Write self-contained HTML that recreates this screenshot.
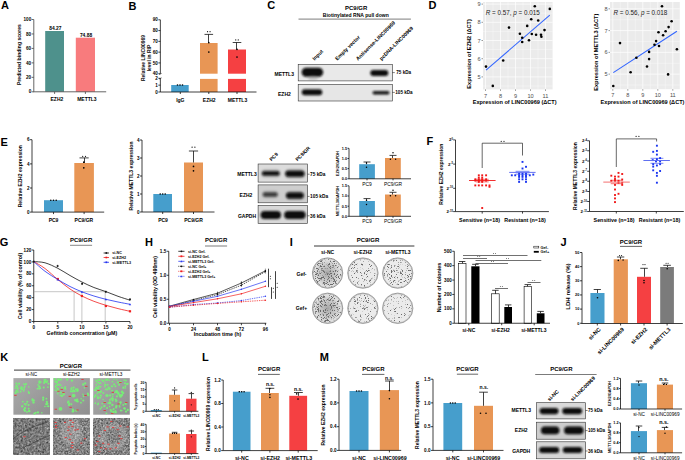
<!DOCTYPE html>
<html><head><meta charset="utf-8"><title>Figure</title>
<style>html,body{margin:0;padding:0;background:#fff;width:685px;height:460px;overflow:hidden;font-family:"Liberation Sans",sans-serif}svg{display:block}</style>
</head><body>
<svg width="685" height="460" viewBox="0 0 685 460" font-family="Liberation Sans, sans-serif"><defs>
<filter id="blur08" x="-50%" y="-50%" width="200%" height="200%"><feGaussianBlur stdDeviation="0.8"/></filter>
<filter id="blur05" x="-50%" y="-50%" width="200%" height="200%"><feGaussianBlur stdDeviation="0.5"/></filter>
<filter id="blur1" x="-50%" y="-50%" width="200%" height="200%"><feGaussianBlur stdDeviation="1"/></filter>
<filter id="blur12" x="-50%" y="-50%" width="200%" height="200%"><feGaussianBlur stdDeviation="1.2"/></filter>
<filter id="blur03" x="-50%" y="-50%" width="200%" height="200%"><feGaussianBlur stdDeviation="0.3"/></filter>
<filter id="dsp1" x="0" y="0" width="100%" height="100%" color-interpolation-filters="sRGB"><feTurbulence type="fractalNoise" baseFrequency="2.3" numOctaves="1" seed="1"/><feColorMatrix type="matrix" values="0 0 0 0 0.42  0 0 0 0 0.42  0 0 0 0 0.42  -10 0 0 0 4.7"/><feGaussianBlur stdDeviation="0.2"/><feComposite in2="SourceGraphic" operator="in"/></filter><filter id="dsp2" x="0" y="0" width="100%" height="100%" color-interpolation-filters="sRGB"><feTurbulence type="fractalNoise" baseFrequency="2.3" numOctaves="1" seed="2"/><feColorMatrix type="matrix" values="0 0 0 0 0.42  0 0 0 0 0.42  0 0 0 0 0.42  -10 0 0 0 4.1"/><feGaussianBlur stdDeviation="0.2"/><feComposite in2="SourceGraphic" operator="in"/></filter><filter id="dsp3" x="0" y="0" width="100%" height="100%" color-interpolation-filters="sRGB"><feTurbulence type="fractalNoise" baseFrequency="2.3" numOctaves="1" seed="3"/><feColorMatrix type="matrix" values="0 0 0 0 0.42  0 0 0 0 0.42  0 0 0 0 0.42  -10 0 0 0 4.2"/><feGaussianBlur stdDeviation="0.2"/><feComposite in2="SourceGraphic" operator="in"/></filter><filter id="dsp4" x="0" y="0" width="100%" height="100%" color-interpolation-filters="sRGB"><feTurbulence type="fractalNoise" baseFrequency="2.3" numOctaves="1" seed="4"/><feColorMatrix type="matrix" values="0 0 0 0 0.42  0 0 0 0 0.42  0 0 0 0 0.42  -10 0 0 0 4.7"/><feGaussianBlur stdDeviation="0.2"/><feComposite in2="SourceGraphic" operator="in"/></filter><filter id="dsp5" x="0" y="0" width="100%" height="100%" color-interpolation-filters="sRGB"><feTurbulence type="fractalNoise" baseFrequency="2.3" numOctaves="1" seed="5"/><feColorMatrix type="matrix" values="0 0 0 0 0.42  0 0 0 0 0.42  0 0 0 0 0.42  -10 0 0 0 4"/><feGaussianBlur stdDeviation="0.2"/><feComposite in2="SourceGraphic" operator="in"/></filter><filter id="dsp6" x="0" y="0" width="100%" height="100%" color-interpolation-filters="sRGB"><feTurbulence type="fractalNoise" baseFrequency="2.3" numOctaves="1" seed="6"/><feColorMatrix type="matrix" values="0 0 0 0 0.42  0 0 0 0 0.42  0 0 0 0 0.42  -10 0 0 0 3.7"/><feGaussianBlur stdDeviation="0.2"/><feComposite in2="SourceGraphic" operator="in"/></filter>
<radialGradient id="dishgrad"><stop offset="0" stop-color="#555"/><stop offset="0.7" stop-color="#888" stop-opacity="0.5"/><stop offset="1" stop-color="#aaa" stop-opacity="0"/></radialGradient>
<linearGradient id="fluog" x1="0" y1="0" x2="1" y2="1"><stop offset="0" stop-color="#aaa"/><stop offset="0.5" stop-color="#9e9e9e"/><stop offset="1" stop-color="#8f8f8f"/></linearGradient>
<filter id="micro" x="0" y="0" width="100%" height="100%" color-interpolation-filters="sRGB"><feTurbulence type="fractalNoise" baseFrequency="0.47" numOctaves="3" seed="3"/><feGaussianBlur stdDeviation="0.5"/><feColorMatrix type="matrix" values="0.33 0.33 0.33 0 0  0.33 0.33 0.33 0 0  0.33 0.33 0.33 0 0  0 0 0 0 1"/><feComponentTransfer><feFuncR type="linear" slope="1.05" intercept="-0.04"/><feFuncG type="linear" slope="1.05" intercept="-0.04"/><feFuncB type="linear" slope="1.05" intercept="-0.04"/></feComponentTransfer></filter>
<filter id="micro2" x="0" y="0" width="100%" height="100%" color-interpolation-filters="sRGB"><feTurbulence type="fractalNoise" baseFrequency="0.57" numOctaves="3" seed="7"/><feGaussianBlur stdDeviation="0.45"/><feColorMatrix type="matrix" values="0.33 0.33 0.33 0 0  0.33 0.33 0.33 0 0  0.33 0.33 0.33 0 0  0 0 0 0 1"/><feComponentTransfer><feFuncR type="linear" slope="1.25" intercept="-0.1"/><feFuncG type="linear" slope="1.25" intercept="-0.1"/><feFuncB type="linear" slope="1.25" intercept="-0.1"/></feComponentTransfer></filter>
<filter id="speck" x="0" y="0" width="100%" height="100%" color-interpolation-filters="sRGB"><feTurbulence type="fractalNoise" baseFrequency="1.3" numOctaves="1" seed="11"/><feColorMatrix type="matrix" values="0 0 0 0 0  0 0 0 0 0  0 0 0 0 0  -6 0 0 0 3.0"/><feComposite in2="SourceGraphic" operator="in"/></filter>

</defs>
<text x="1" y="9.2" font-size="11" font-weight="bold">A</text>
<line x1="33.8" y1="19.5" x2="33.8" y2="91.8" stroke="#555" stroke-width="0.9"/>
<line x1="31.6" y1="19.5" x2="33.8" y2="19.5" stroke="#555" stroke-width="0.9"/>
<text x="31.2" y="21.13" font-size="4.6" text-anchor="end" font-weight="bold">100</text>
<line x1="31.6" y1="33.96" x2="33.8" y2="33.96" stroke="#555" stroke-width="0.9"/>
<text x="31.2" y="35.59" font-size="4.6" text-anchor="end" font-weight="bold">80</text>
<line x1="31.6" y1="48.42" x2="33.8" y2="48.42" stroke="#555" stroke-width="0.9"/>
<text x="31.2" y="50.05" font-size="4.6" text-anchor="end" font-weight="bold">60</text>
<line x1="31.6" y1="62.88" x2="33.8" y2="62.88" stroke="#555" stroke-width="0.9"/>
<text x="31.2" y="64.51" font-size="4.6" text-anchor="end" font-weight="bold">40</text>
<line x1="31.6" y1="77.34" x2="33.8" y2="77.34" stroke="#555" stroke-width="0.9"/>
<text x="31.2" y="78.97" font-size="4.6" text-anchor="end" font-weight="bold">20</text>
<line x1="31.6" y1="91.8" x2="33.8" y2="91.8" stroke="#555" stroke-width="0.9"/>
<text x="31.2" y="93.43" font-size="4.6" text-anchor="end" font-weight="bold">0</text>
<rect x="45.2" y="31" width="18.8" height="60.8" fill="#4E918C"/>
<rect x="75.8" y="37.7" width="19.2" height="54.1" fill="#F87B7D"/>
<line x1="33.3" y1="91.8" x2="106.2" y2="91.8" stroke="#555" stroke-width="0.9"/>
<line x1="54.6" y1="91.8" x2="54.6" y2="93.9" stroke="#555" stroke-width="0.9"/>
<line x1="85.4" y1="91.8" x2="85.4" y2="93.9" stroke="#555" stroke-width="0.9"/>
<text x="55.3" y="29.9" font-size="4.9" text-anchor="middle" font-weight="bold">84.27</text>
<text x="86" y="36.6" font-size="4.9" text-anchor="middle" font-weight="bold">74.88</text>
<text x="56.9" y="101.4" font-size="5" text-anchor="middle" font-weight="bold">EZH2</text>
<text x="86.9" y="101.4" font-size="5" text-anchor="middle" font-weight="bold">METTL3</text>
<text x="20.9" y="54.6" font-size="5.1" text-anchor="middle" font-weight="bold" transform="rotate(-90 20.9 54.6)">Predicted binding scores</text>
<text x="128.6" y="9.8" font-size="11" font-weight="bold">B</text>
<line x1="160.35" y1="19.8" x2="160.35" y2="73.7" stroke="#000" stroke-width="0.75"/>
<line x1="158.35" y1="19.8" x2="160.35" y2="19.8" stroke="#000" stroke-width="0.75"/>
<text x="157.85" y="21.43" font-size="4.6" text-anchor="end" font-weight="bold">90</text>
<line x1="158.35" y1="30.58" x2="160.35" y2="30.58" stroke="#000" stroke-width="0.75"/>
<text x="157.85" y="32.21" font-size="4.6" text-anchor="end" font-weight="bold">80</text>
<line x1="158.35" y1="41.36" x2="160.35" y2="41.36" stroke="#000" stroke-width="0.75"/>
<text x="157.85" y="42.99" font-size="4.6" text-anchor="end" font-weight="bold">70</text>
<line x1="158.35" y1="52.14" x2="160.35" y2="52.14" stroke="#000" stroke-width="0.75"/>
<text x="157.85" y="53.77" font-size="4.6" text-anchor="end" font-weight="bold">60</text>
<line x1="158.35" y1="62.92" x2="160.35" y2="62.92" stroke="#000" stroke-width="0.75"/>
<text x="157.85" y="64.55" font-size="4.6" text-anchor="end" font-weight="bold">50</text>
<line x1="158.35" y1="73.7" x2="160.35" y2="73.7" stroke="#000" stroke-width="0.75"/>
<text x="157.85" y="75.33" font-size="4.6" text-anchor="end" font-weight="bold">40</text>
<line x1="160.35" y1="78.3" x2="160.35" y2="92" stroke="#000" stroke-width="0.75"/>
<line x1="158.35" y1="78.3" x2="160.35" y2="78.3" stroke="#000" stroke-width="0.75"/>
<text x="157.85" y="79.93" font-size="4.6" text-anchor="end" font-weight="bold">2</text>
<line x1="158.35" y1="85.15" x2="160.35" y2="85.15" stroke="#000" stroke-width="0.75"/>
<text x="157.85" y="86.78" font-size="4.6" text-anchor="end" font-weight="bold">1</text>
<line x1="158.35" y1="92" x2="160.35" y2="92" stroke="#000" stroke-width="0.75"/>
<text x="157.85" y="93.63" font-size="4.6" text-anchor="end" font-weight="bold">0</text>
<line x1="159.05" y1="74.6" x2="161.65" y2="73.4" stroke="#000" stroke-width="0.5"/>
<line x1="159.05" y1="79" x2="161.65" y2="77.8" stroke="#000" stroke-width="0.5"/>
<rect x="171.2" y="85" width="17.5" height="7" fill="#469ECC"/>
<rect x="200" y="43" width="17.6" height="30.7" fill="#E89655"/>
<rect x="200" y="78.9" width="17.6" height="13.1" fill="#E89655"/>
<rect x="228" y="49.5" width="18" height="24.2" fill="#F54042"/>
<rect x="228" y="78.9" width="18" height="13.1" fill="#F54042"/>
<line x1="160.35" y1="92" x2="256.5" y2="92" stroke="#000" stroke-width="0.75"/>
<line x1="180.3" y1="92" x2="180.3" y2="94" stroke="#000" stroke-width="0.75"/>
<line x1="208.8" y1="92" x2="208.8" y2="94" stroke="#000" stroke-width="0.75"/>
<line x1="237" y1="92" x2="237" y2="94" stroke="#000" stroke-width="0.75"/>
<line x1="208.5" y1="34.4" x2="208.5" y2="43" stroke="#111" stroke-width="0.8"/>
<line x1="204.5" y1="34.4" x2="213.1" y2="34.4" stroke="#111" stroke-width="0.8"/>
<line x1="236.5" y1="42.5" x2="236.5" y2="49.5" stroke="#111" stroke-width="0.8"/>
<line x1="232.7" y1="42.5" x2="241.3" y2="42.5" stroke="#111" stroke-width="0.8"/>
<circle cx="207.55" cy="31.68" r="0.6" fill="#000"/>
<circle cx="210.05" cy="31.68" r="0.6" fill="#000"/>
<circle cx="235.75" cy="39.88" r="0.6" fill="#000"/>
<circle cx="238.25" cy="39.88" r="0.6" fill="#000"/>
<circle cx="208.8" cy="42.6" r="0.85" fill="#000"/>
<circle cx="208.8" cy="52" r="0.85" fill="#000"/>
<circle cx="237" cy="49.3" r="0.85" fill="#000"/>
<circle cx="237" cy="57" r="0.85" fill="#000"/>
<circle cx="177.5" cy="85" r="0.8" fill="#000"/>
<circle cx="180" cy="85" r="0.8" fill="#000"/>
<circle cx="182.5" cy="85" r="0.8" fill="#000"/>
<text x="180.3" y="102" font-size="5" text-anchor="middle" font-weight="bold">IgG</text>
<text x="209.2" y="102" font-size="5" text-anchor="middle" font-weight="bold">EZH2</text>
<text x="237.5" y="102" font-size="5" text-anchor="middle" font-weight="bold">METTL3</text>
<text x="144.6" y="58" font-size="5" text-anchor="middle" font-weight="bold" transform="rotate(-90 144.6 58)">Relative LINC00969</text>
<text x="151" y="58" font-size="5" text-anchor="middle" font-weight="bold" transform="rotate(-90 151 58)">level in RIP</text>
<text x="267.2" y="9.3" font-size="11" font-weight="bold">C</text>
<text x="356.2" y="10.4" font-size="6" text-anchor="middle" font-weight="bold">PC9/GR</text>
<text x="355.8" y="16.9" font-size="5.05" text-anchor="middle" font-weight="bold">Biotinylated RNA pull down</text>
<line x1="298.5" y1="19.1" x2="410.9" y2="19.1" stroke="#444" stroke-width="0.7"/>
<text x="314.4" y="60.8" font-size="5.2" font-weight="bold" transform="rotate(-45 314.4 60.8)">Input</text>
<text x="337.2" y="60.8" font-size="5.2" font-weight="bold" transform="rotate(-45 337.2 60.8)">Empty vector</text>
<text x="358" y="60.8" font-size="5.2" font-weight="bold" transform="rotate(-45 358 60.8)">Antisense-LINC00969</text>
<text x="381.4" y="60.8" font-size="5.2" font-weight="bold" transform="rotate(-45 381.4 60.8)">pcDNA-LINC00969</text>
<rect x="298.2" y="64.3" width="94.2" height="16.6" fill="#e9e9e9" stroke="#333" stroke-width="0.6"/>
<rect x="298.2" y="84.4" width="94.2" height="16.6" fill="#e6e6e6" stroke="#333" stroke-width="0.6"/>
<rect x="301.65" y="67.7" width="21.5" height="9" rx="4.5" fill="#0a0a0a" opacity="1" filter="url(#blur08)"/>
<rect x="370.3" y="70" width="18" height="6" rx="3" fill="#0a0a0a" opacity="1" filter="url(#blur08)"/>
<rect x="301.75" y="89.3" width="20.5" height="6" rx="3" fill="#0a0a0a" opacity="1" filter="url(#blur08)"/>
<rect x="372.5" y="91.1" width="17" height="3.4" rx="1.7" fill="#0a0a0a" opacity="0.95" filter="url(#blur08)"/>
<ellipse cx="313" cy="78" rx="5" ry="2.5" fill="#888" opacity="0.35" filter="url(#blur12)"/>
<text x="284.2" y="75.6" font-size="5" text-anchor="middle" font-weight="bold">METTL3</text>
<text x="284.4" y="95.6" font-size="5" text-anchor="middle" font-weight="bold">EZH2</text>
<line x1="392.4" y1="72.6" x2="394.8" y2="72.6" stroke="#000" stroke-width="0.5"/>
<text x="396.3" y="74.3" font-size="4.6" font-weight="bold">75 kDa</text>
<line x1="392.4" y1="92.4" x2="394.8" y2="92.4" stroke="#000" stroke-width="0.5"/>
<text x="395.3" y="94.1" font-size="4.6" font-weight="bold">105 kDa</text>
<text x="428.6" y="9" font-size="11" font-weight="bold">D</text>
<rect x="483" y="2" width="69.6" height="87.4" fill="#EBEBEB"/>
<line x1="483" y1="13.2" x2="552.6" y2="13.2" stroke="#fff" stroke-width="0.35"/>
<line x1="483" y1="31.4" x2="552.6" y2="31.4" stroke="#fff" stroke-width="0.35"/>
<line x1="483" y1="49.6" x2="552.6" y2="49.6" stroke="#fff" stroke-width="0.35"/>
<line x1="483" y1="67.8" x2="552.6" y2="67.8" stroke="#fff" stroke-width="0.35"/>
<line x1="483" y1="86" x2="552.6" y2="86" stroke="#fff" stroke-width="0.35"/>
<line x1="493" y1="2" x2="493" y2="89.4" stroke="#fff" stroke-width="0.35"/>
<line x1="508" y1="2" x2="508" y2="89.4" stroke="#fff" stroke-width="0.35"/>
<line x1="523" y1="2" x2="523" y2="89.4" stroke="#fff" stroke-width="0.35"/>
<line x1="538" y1="2" x2="538" y2="89.4" stroke="#fff" stroke-width="0.35"/>
<line x1="483" y1="4.1" x2="552.6" y2="4.1" stroke="#fff" stroke-width="0.7"/>
<line x1="483" y1="22.3" x2="552.6" y2="22.3" stroke="#fff" stroke-width="0.7"/>
<line x1="483" y1="40.5" x2="552.6" y2="40.5" stroke="#fff" stroke-width="0.7"/>
<line x1="483" y1="58.7" x2="552.6" y2="58.7" stroke="#fff" stroke-width="0.7"/>
<line x1="483" y1="76.9" x2="552.6" y2="76.9" stroke="#fff" stroke-width="0.7"/>
<line x1="485.5" y1="2" x2="485.5" y2="89.4" stroke="#fff" stroke-width="0.7"/>
<line x1="500.5" y1="2" x2="500.5" y2="89.4" stroke="#fff" stroke-width="0.7"/>
<line x1="515.5" y1="2" x2="515.5" y2="89.4" stroke="#fff" stroke-width="0.7"/>
<line x1="530.5" y1="2" x2="530.5" y2="89.4" stroke="#fff" stroke-width="0.7"/>
<line x1="545.5" y1="2" x2="545.5" y2="89.4" stroke="#fff" stroke-width="0.7"/>
<line x1="481.5" y1="4.1" x2="483" y2="4.1" stroke="#333" stroke-width="0.5"/>
<text x="480.7" y="6.1" font-size="5.6" text-anchor="end" fill="#4D4D4D">9</text>
<line x1="481.5" y1="22.3" x2="483" y2="22.3" stroke="#333" stroke-width="0.5"/>
<text x="480.7" y="24.3" font-size="5.6" text-anchor="end" fill="#4D4D4D">8</text>
<line x1="481.5" y1="40.5" x2="483" y2="40.5" stroke="#333" stroke-width="0.5"/>
<text x="480.7" y="42.5" font-size="5.6" text-anchor="end" fill="#4D4D4D">7</text>
<line x1="481.5" y1="58.7" x2="483" y2="58.7" stroke="#333" stroke-width="0.5"/>
<text x="480.7" y="60.7" font-size="5.6" text-anchor="end" fill="#4D4D4D">6</text>
<line x1="481.5" y1="76.9" x2="483" y2="76.9" stroke="#333" stroke-width="0.5"/>
<text x="480.7" y="78.9" font-size="5.6" text-anchor="end" fill="#4D4D4D">5</text>
<line x1="485.5" y1="89.4" x2="485.5" y2="90.9" stroke="#333" stroke-width="0.5"/>
<text x="485.5" y="97.5" font-size="5.6" text-anchor="middle" fill="#4D4D4D">7</text>
<line x1="500.5" y1="89.4" x2="500.5" y2="90.9" stroke="#333" stroke-width="0.5"/>
<text x="500.5" y="97.5" font-size="5.6" text-anchor="middle" fill="#4D4D4D">8</text>
<line x1="515.5" y1="89.4" x2="515.5" y2="90.9" stroke="#333" stroke-width="0.5"/>
<text x="515.5" y="97.5" font-size="5.6" text-anchor="middle" fill="#4D4D4D">9</text>
<line x1="530.5" y1="89.4" x2="530.5" y2="90.9" stroke="#333" stroke-width="0.5"/>
<text x="530.5" y="97.5" font-size="5.6" text-anchor="middle" fill="#4D4D4D">10</text>
<line x1="545.5" y1="89.4" x2="545.5" y2="90.9" stroke="#333" stroke-width="0.5"/>
<text x="545.5" y="97.5" font-size="5.6" text-anchor="middle" fill="#4D4D4D">11</text>
<line x1="486" y1="70.1" x2="549.8" y2="15.1" stroke="#3366FF" stroke-width="1.1"/>
<circle cx="534.8" cy="6.3" r="1.3" fill="#000"/>
<circle cx="549.8" cy="8.9" r="1.3" fill="#000"/>
<circle cx="509" cy="27.6" r="1.3" fill="#000"/>
<circle cx="527.2" cy="25.9" r="1.3" fill="#000"/>
<circle cx="531.2" cy="19.2" r="1.3" fill="#000"/>
<circle cx="538.2" cy="20.5" r="1.3" fill="#000"/>
<circle cx="519.9" cy="33.8" r="1.3" fill="#000"/>
<circle cx="522.2" cy="37.8" r="1.3" fill="#000"/>
<circle cx="522.2" cy="42" r="1.3" fill="#000"/>
<circle cx="529" cy="40.2" r="1.3" fill="#000"/>
<circle cx="531.8" cy="34" r="1.3" fill="#000"/>
<circle cx="536.1" cy="34.7" r="1.3" fill="#000"/>
<circle cx="541" cy="34.7" r="1.3" fill="#000"/>
<circle cx="541.4" cy="36.8" r="1.3" fill="#000"/>
<circle cx="544.5" cy="30.1" r="1.3" fill="#000"/>
<circle cx="503.2" cy="60.5" r="1.3" fill="#000"/>
<circle cx="486" cy="66.6" r="1.3" fill="#000"/>
<circle cx="492.8" cy="85.9" r="1.3" fill="#000"/>
<text x="485.8" y="15.1" font-size="6.3" fill="#222"><tspan font-style="italic">R</tspan> = 0.57, <tspan font-style="italic">p</tspan> = 0.015</text>
<text x="470.7" y="53.9" font-size="5.6" text-anchor="middle" font-weight="bold" transform="rotate(-90 470.7 53.9)">Expression of EZH2 (&#916;CT)</text>
<text x="514.7" y="103.8" font-size="5.6" text-anchor="middle" font-weight="bold">Expression of LINC00969 (&#916;CT)</text>
<rect x="610" y="2" width="69.8" height="87.2" fill="#EBEBEB"/>
<line x1="610" y1="19.72" x2="679.8" y2="19.72" stroke="#fff" stroke-width="0.35"/>
<line x1="610" y1="41.48" x2="679.8" y2="41.48" stroke="#fff" stroke-width="0.35"/>
<line x1="610" y1="63.26" x2="679.8" y2="63.26" stroke="#fff" stroke-width="0.35"/>
<line x1="610" y1="85.03" x2="679.8" y2="85.03" stroke="#fff" stroke-width="0.35"/>
<line x1="620.3" y1="2" x2="620.3" y2="89.2" stroke="#fff" stroke-width="0.35"/>
<line x1="635.3" y1="2" x2="635.3" y2="89.2" stroke="#fff" stroke-width="0.35"/>
<line x1="650.3" y1="2" x2="650.3" y2="89.2" stroke="#fff" stroke-width="0.35"/>
<line x1="665.3" y1="2" x2="665.3" y2="89.2" stroke="#fff" stroke-width="0.35"/>
<line x1="610" y1="8.83" x2="679.8" y2="8.83" stroke="#fff" stroke-width="0.7"/>
<line x1="610" y1="30.6" x2="679.8" y2="30.6" stroke="#fff" stroke-width="0.7"/>
<line x1="610" y1="52.37" x2="679.8" y2="52.37" stroke="#fff" stroke-width="0.7"/>
<line x1="610" y1="74.14" x2="679.8" y2="74.14" stroke="#fff" stroke-width="0.7"/>
<line x1="612.8" y1="2" x2="612.8" y2="89.2" stroke="#fff" stroke-width="0.7"/>
<line x1="627.8" y1="2" x2="627.8" y2="89.2" stroke="#fff" stroke-width="0.7"/>
<line x1="642.8" y1="2" x2="642.8" y2="89.2" stroke="#fff" stroke-width="0.7"/>
<line x1="657.8" y1="2" x2="657.8" y2="89.2" stroke="#fff" stroke-width="0.7"/>
<line x1="672.8" y1="2" x2="672.8" y2="89.2" stroke="#fff" stroke-width="0.7"/>
<line x1="608.5" y1="8.83" x2="610" y2="8.83" stroke="#333" stroke-width="0.5"/>
<text x="607.7" y="10.83" font-size="5.6" text-anchor="end" fill="#4D4D4D">8</text>
<line x1="608.5" y1="30.6" x2="610" y2="30.6" stroke="#333" stroke-width="0.5"/>
<text x="607.7" y="32.6" font-size="5.6" text-anchor="end" fill="#4D4D4D">7</text>
<line x1="608.5" y1="52.37" x2="610" y2="52.37" stroke="#333" stroke-width="0.5"/>
<text x="607.7" y="54.37" font-size="5.6" text-anchor="end" fill="#4D4D4D">6</text>
<line x1="608.5" y1="74.14" x2="610" y2="74.14" stroke="#333" stroke-width="0.5"/>
<text x="607.7" y="76.14" font-size="5.6" text-anchor="end" fill="#4D4D4D">5</text>
<line x1="612.8" y1="89.2" x2="612.8" y2="90.7" stroke="#333" stroke-width="0.5"/>
<text x="612.8" y="97.3" font-size="5.6" text-anchor="middle" fill="#4D4D4D">7</text>
<line x1="627.8" y1="89.2" x2="627.8" y2="90.7" stroke="#333" stroke-width="0.5"/>
<text x="627.8" y="97.3" font-size="5.6" text-anchor="middle" fill="#4D4D4D">8</text>
<line x1="642.8" y1="89.2" x2="642.8" y2="90.7" stroke="#333" stroke-width="0.5"/>
<text x="642.8" y="97.3" font-size="5.6" text-anchor="middle" fill="#4D4D4D">9</text>
<line x1="657.8" y1="89.2" x2="657.8" y2="90.7" stroke="#333" stroke-width="0.5"/>
<text x="657.8" y="97.3" font-size="5.6" text-anchor="middle" fill="#4D4D4D">10</text>
<line x1="672.8" y1="89.2" x2="672.8" y2="90.7" stroke="#333" stroke-width="0.5"/>
<text x="672.8" y="97.3" font-size="5.6" text-anchor="middle" fill="#4D4D4D">11</text>
<line x1="613.3" y1="72.6" x2="676.9" y2="31.3" stroke="#3366FF" stroke-width="1.1"/>
<circle cx="662" cy="6.3" r="1.3" fill="#000"/>
<circle cx="671.6" cy="21.3" r="1.3" fill="#000"/>
<circle cx="668.6" cy="27.1" r="1.3" fill="#000"/>
<circle cx="665.6" cy="31.3" r="1.3" fill="#000"/>
<circle cx="658.5" cy="32.2" r="1.3" fill="#000"/>
<circle cx="663.1" cy="35.2" r="1.3" fill="#000"/>
<circle cx="656.1" cy="41.1" r="1.3" fill="#000"/>
<circle cx="654.5" cy="44.7" r="1.3" fill="#000"/>
<circle cx="659" cy="46" r="1.3" fill="#000"/>
<circle cx="649.1" cy="51.9" r="1.3" fill="#000"/>
<circle cx="649.1" cy="59.1" r="1.3" fill="#000"/>
<circle cx="620" cy="43.1" r="1.3" fill="#000"/>
<circle cx="676.9" cy="49.3" r="1.3" fill="#000"/>
<circle cx="636.4" cy="57.7" r="1.3" fill="#000"/>
<circle cx="613.3" cy="86" r="1.3" fill="#000"/>
<circle cx="630.6" cy="72.2" r="1.3" fill="#000"/>
<circle cx="647" cy="66.5" r="1.3" fill="#000"/>
<circle cx="668.1" cy="74.4" r="1.3" fill="#000"/>
<text x="613.4" y="15.1" font-size="6.3" fill="#222"><tspan font-style="italic">R</tspan> = 0.56, <tspan font-style="italic">p</tspan> = 0.018</text>
<text x="598.5" y="52.2" font-size="5.6" text-anchor="middle" font-weight="bold" transform="rotate(-90 598.5 52.2)">Expression of METTL3 (&#916;CT)</text>
<text x="642.5" y="103.8" font-size="5.6" text-anchor="middle" font-weight="bold">Expression of LINC00969 (&#916;CT)</text>
<text x="0.6" y="145.6" font-size="11" font-weight="bold">E</text>
<line x1="32" y1="139.7" x2="32" y2="212.1" stroke="#000" stroke-width="0.75"/>
<line x1="30" y1="139.7" x2="32" y2="139.7" stroke="#000" stroke-width="0.75"/>
<text x="29.5" y="141.33" font-size="4.6" text-anchor="end" font-weight="bold">6</text>
<line x1="30" y1="163.9" x2="32" y2="163.9" stroke="#000" stroke-width="0.75"/>
<text x="29.5" y="165.53" font-size="4.6" text-anchor="end" font-weight="bold">4</text>
<line x1="30" y1="188" x2="32" y2="188" stroke="#000" stroke-width="0.75"/>
<text x="29.5" y="189.63" font-size="4.6" text-anchor="end" font-weight="bold">2</text>
<line x1="30" y1="212.1" x2="32" y2="212.1" stroke="#000" stroke-width="0.75"/>
<text x="29.5" y="213.73" font-size="4.6" text-anchor="end" font-weight="bold">0</text>
<rect x="44" y="200.2" width="19" height="11.9" fill="#469ECC"/>
<rect x="74.3" y="163" width="19.6" height="49.1" fill="#E89655"/>
<line x1="32" y1="212.1" x2="104.2" y2="212.1" stroke="#000" stroke-width="0.75"/>
<line x1="53.5" y1="212.1" x2="53.5" y2="214.1" stroke="#000" stroke-width="0.75"/>
<line x1="84.1" y1="212.1" x2="84.1" y2="214.1" stroke="#000" stroke-width="0.75"/>
<line x1="84.5" y1="157.9" x2="84.5" y2="163" stroke="#111" stroke-width="0.8"/>
<line x1="79.5" y1="157.9" x2="88.7" y2="157.9" stroke="#111" stroke-width="0.8"/>
<circle cx="82.7" cy="156.28" r="0.6" fill="#000"/>
<circle cx="85.5" cy="156.28" r="0.6" fill="#000"/>
<circle cx="83.8" cy="162.2" r="0.85" fill="#000"/>
<circle cx="83.8" cy="167.8" r="0.85" fill="#000"/>
<circle cx="50.8" cy="200.2" r="0.8" fill="#000"/>
<circle cx="53.5" cy="200.2" r="0.8" fill="#000"/>
<circle cx="56.2" cy="200.2" r="0.8" fill="#000"/>
<text x="53.5" y="222" font-size="5" text-anchor="middle" font-weight="bold">PC9</text>
<text x="83.9" y="222" font-size="5" text-anchor="middle" font-weight="bold">PC9/GR</text>
<text x="21.6" y="176.2" font-size="5.1" text-anchor="middle" font-weight="bold" transform="rotate(-90 21.6 176.2)">Relative EZH2 expression</text>
<line x1="142" y1="140" x2="142" y2="212" stroke="#000" stroke-width="0.75"/>
<line x1="140" y1="140" x2="142" y2="140" stroke="#000" stroke-width="0.75"/>
<text x="139.5" y="141.63" font-size="4.6" text-anchor="end" font-weight="bold">4</text>
<line x1="140" y1="158" x2="142" y2="158" stroke="#000" stroke-width="0.75"/>
<text x="139.5" y="159.63" font-size="4.6" text-anchor="end" font-weight="bold">3</text>
<line x1="140" y1="176" x2="142" y2="176" stroke="#000" stroke-width="0.75"/>
<text x="139.5" y="177.63" font-size="4.6" text-anchor="end" font-weight="bold">2</text>
<line x1="140" y1="194" x2="142" y2="194" stroke="#000" stroke-width="0.75"/>
<text x="139.5" y="195.63" font-size="4.6" text-anchor="end" font-weight="bold">1</text>
<line x1="140" y1="212" x2="142" y2="212" stroke="#000" stroke-width="0.75"/>
<text x="139.5" y="213.63" font-size="4.6" text-anchor="end" font-weight="bold">0</text>
<rect x="153.3" y="194" width="18.7" height="18" fill="#469ECC"/>
<rect x="184" y="162.5" width="19" height="49.5" fill="#E89655"/>
<line x1="142" y1="212" x2="214.5" y2="212" stroke="#000" stroke-width="0.75"/>
<line x1="162.7" y1="212" x2="162.7" y2="214" stroke="#000" stroke-width="0.75"/>
<line x1="193.5" y1="212" x2="193.5" y2="214" stroke="#000" stroke-width="0.75"/>
<line x1="193.5" y1="151" x2="193.5" y2="162.5" stroke="#111" stroke-width="0.8"/>
<line x1="188.9" y1="151" x2="198.1" y2="151" stroke="#111" stroke-width="0.8"/>
<circle cx="192.1" cy="147.18" r="0.6" fill="#000"/>
<circle cx="194.9" cy="147.18" r="0.6" fill="#000"/>
<circle cx="193.5" cy="166.4" r="0.85" fill="#000"/>
<circle cx="193.5" cy="170.8" r="0.85" fill="#000"/>
<circle cx="160.2" cy="194" r="0.8" fill="#000"/>
<circle cx="162.7" cy="194" r="0.8" fill="#000"/>
<circle cx="165.2" cy="194" r="0.8" fill="#000"/>
<text x="163" y="222" font-size="5" text-anchor="middle" font-weight="bold">PC9</text>
<text x="193.5" y="222" font-size="5" text-anchor="middle" font-weight="bold">PC9/GR</text>
<text x="132.6" y="176" font-size="5.1" text-anchor="middle" font-weight="bold" transform="rotate(-90 132.6 176)">Relative METTL3 expression</text>
<text x="271.5" y="161.5" font-size="5" font-weight="bold" transform="rotate(-45 271.5 161.5)">PC9</text>
<text x="297.5" y="161.5" font-size="5" font-weight="bold" transform="rotate(-45 297.5 161.5)">PC9/GR</text>
<rect x="258.1" y="164" width="49.5" height="18.1" fill="#dcdcdc" stroke="#333" stroke-width="0.6"/>
<rect x="258.1" y="184.9" width="49.5" height="17.9" fill="#cecece" stroke="#333" stroke-width="0.6"/>
<rect x="258.1" y="205.3" width="49.5" height="18.2" fill="#d8d8d8" stroke="#333" stroke-width="0.6"/>
<rect x="260.8" y="169.15" width="20" height="8.5" rx="4.25" fill="#555" opacity="0.25" filter="url(#blur12)"/>
<rect x="284.5" y="169.05" width="21" height="9.5" rx="4.75" fill="#555" opacity="0.3" filter="url(#blur12)"/>
<rect x="261.8" y="190.85" width="17" height="7.5" rx="3.75" fill="#555" opacity="0.25" filter="url(#blur12)"/>
<rect x="285.5" y="191" width="19" height="9" rx="4.5" fill="#555" opacity="0.3" filter="url(#blur12)"/>
<rect x="262.05" y="171.2" width="17.5" height="4.4" rx="2.2" fill="#0a0a0a" opacity="1" filter="url(#blur08)"/>
<rect x="285.4" y="170.8" width="19" height="6" rx="3" fill="#0a0a0a" opacity="1" filter="url(#blur08)"/>
<rect x="262.95" y="192.6" width="14.5" height="4" rx="2" fill="#0a0a0a" opacity="0.75" filter="url(#blur08)"/>
<rect x="286.15" y="192.4" width="17.5" height="6.2" rx="3.1" fill="#0a0a0a" opacity="1" filter="url(#blur08)"/>
<rect x="260.55" y="211" width="20.5" height="8" rx="4" fill="#0a0a0a" opacity="1" filter="url(#blur08)"/>
<rect x="284.15" y="211" width="21.5" height="8" rx="4" fill="#0a0a0a" opacity="1" filter="url(#blur08)"/>
<text x="247" y="175.9" font-size="5" text-anchor="middle" font-weight="bold">METTL3</text>
<text x="246" y="197.3" font-size="5" text-anchor="middle" font-weight="bold">EZH2</text>
<text x="247" y="217.6" font-size="5" text-anchor="middle" font-weight="bold">GAPDH</text>
<line x1="307.6" y1="174.2" x2="309.6" y2="174.2" stroke="#000" stroke-width="0.5"/>
<text x="310.1" y="175.9" font-size="4.75" font-weight="bold">75 kDa</text>
<line x1="307.6" y1="196.4" x2="309.6" y2="196.4" stroke="#000" stroke-width="0.5"/>
<text x="310.1" y="198.1" font-size="4.75" font-weight="bold">105 kDa</text>
<line x1="307.6" y1="215.8" x2="309.6" y2="215.8" stroke="#000" stroke-width="0.5"/>
<text x="310.1" y="217.5" font-size="4.75" font-weight="bold">36 kDa</text>
<line x1="349" y1="148.3" x2="349" y2="178.8" stroke="#000" stroke-width="0.75"/>
<line x1="347.5" y1="148.3" x2="349" y2="148.3" stroke="#000" stroke-width="0.75"/>
<text x="347.1" y="149.65" font-size="3.8" text-anchor="end" font-weight="bold">1.5</text>
<line x1="347.5" y1="158.5" x2="349" y2="158.5" stroke="#000" stroke-width="0.75"/>
<text x="347.1" y="159.85" font-size="3.8" text-anchor="end" font-weight="bold">1.0</text>
<line x1="347.5" y1="168.6" x2="349" y2="168.6" stroke="#000" stroke-width="0.75"/>
<text x="347.1" y="169.95" font-size="3.8" text-anchor="end" font-weight="bold">0.5</text>
<line x1="347.5" y1="178.8" x2="349" y2="178.8" stroke="#000" stroke-width="0.75"/>
<text x="347.1" y="180.15" font-size="3.8" text-anchor="end" font-weight="bold">0.0</text>
<rect x="359.2" y="164.2" width="15.7" height="14.6" fill="#469ECC"/>
<rect x="385" y="158" width="15.8" height="20.8" fill="#E89655"/>
<line x1="349" y1="178.8" x2="411" y2="178.8" stroke="#000" stroke-width="0.75"/>
<line x1="367" y1="178.8" x2="367" y2="180.3" stroke="#000" stroke-width="0.75"/>
<line x1="393" y1="178.8" x2="393" y2="180.3" stroke="#000" stroke-width="0.75"/>
<text x="367" y="185.8" font-size="4.9" text-anchor="middle">PC9</text>
<text x="393" y="185.8" font-size="4.9" text-anchor="middle">PC9/GR</text>
<text x="339" y="163.6" font-size="3.9" text-anchor="middle" font-weight="bold" transform="rotate(-90 339 163.6)">EZH2/GAPDH</text>
<line x1="366.5" y1="162" x2="366.5" y2="164.2" stroke="#111" stroke-width="0.8"/>
<line x1="363.5" y1="162" x2="370.5" y2="162" stroke="#111" stroke-width="0.8"/>
<line x1="392.5" y1="155.4" x2="392.5" y2="158" stroke="#111" stroke-width="0.8"/>
<line x1="389.5" y1="155.4" x2="396.5" y2="155.4" stroke="#111" stroke-width="0.8"/>
<circle cx="366.5" cy="163" r="0.75" fill="#000"/>
<circle cx="366.5" cy="167.2" r="0.75" fill="#000"/>
<circle cx="393" cy="152.8" r="0.75" fill="#000"/>
<circle cx="390.4" cy="159.3" r="0.75" fill="#000"/>
<circle cx="395.6" cy="159.3" r="0.75" fill="#000"/>
<line x1="349" y1="185.8" x2="349" y2="216.3" stroke="#000" stroke-width="0.75"/>
<line x1="347.5" y1="185.8" x2="349" y2="185.8" stroke="#000" stroke-width="0.75"/>
<text x="347.1" y="187.15" font-size="3.8" text-anchor="end" font-weight="bold">1.5</text>
<line x1="347.5" y1="196" x2="349" y2="196" stroke="#000" stroke-width="0.75"/>
<text x="347.1" y="197.35" font-size="3.8" text-anchor="end" font-weight="bold">1.0</text>
<line x1="347.5" y1="206.2" x2="349" y2="206.2" stroke="#000" stroke-width="0.75"/>
<text x="347.1" y="207.55" font-size="3.8" text-anchor="end" font-weight="bold">0.5</text>
<line x1="347.5" y1="216.3" x2="349" y2="216.3" stroke="#000" stroke-width="0.75"/>
<text x="347.1" y="217.65" font-size="3.8" text-anchor="end" font-weight="bold">0.0</text>
<rect x="359.2" y="201" width="15.7" height="15.3" fill="#469ECC"/>
<rect x="385" y="194.5" width="15.8" height="21.8" fill="#E89655"/>
<line x1="349" y1="216.3" x2="411" y2="216.3" stroke="#000" stroke-width="0.75"/>
<line x1="367" y1="216.3" x2="367" y2="217.8" stroke="#000" stroke-width="0.75"/>
<line x1="393" y1="216.3" x2="393" y2="217.8" stroke="#000" stroke-width="0.75"/>
<text x="367" y="223.3" font-size="4.9" text-anchor="middle">PC9</text>
<text x="393" y="223.3" font-size="4.9" text-anchor="middle">PC9/GR</text>
<text x="339" y="201" font-size="3.9" text-anchor="middle" font-weight="bold" transform="rotate(-90 339 201)">METTL3/GAPDH</text>
<line x1="366.5" y1="198.6" x2="366.5" y2="201" stroke="#111" stroke-width="0.8"/>
<line x1="363.5" y1="198.6" x2="370.5" y2="198.6" stroke="#111" stroke-width="0.8"/>
<line x1="392.5" y1="192.3" x2="392.5" y2="194.5" stroke="#111" stroke-width="0.8"/>
<line x1="389.5" y1="192.3" x2="396.5" y2="192.3" stroke="#111" stroke-width="0.8"/>
<circle cx="366.5" cy="200.2" r="0.75" fill="#000"/>
<circle cx="366.5" cy="204.4" r="0.75" fill="#000"/>
<circle cx="393" cy="190.2" r="0.75" fill="#000"/>
<circle cx="390.4" cy="195.8" r="0.75" fill="#000"/>
<circle cx="395.6" cy="195.8" r="0.75" fill="#000"/>
<text x="426.5" y="144.9" font-size="11" font-weight="bold">F</text>
<line x1="455.5" y1="139.9" x2="455.5" y2="211.6" stroke="#000" stroke-width="0.75"/>
<line x1="453.2" y1="139.9" x2="455.5" y2="139.9" stroke="#000" stroke-width="0.75"/>
<line x1="453.2" y1="164.1" x2="455.5" y2="164.1" stroke="#000" stroke-width="0.75"/>
<line x1="453.2" y1="188.3" x2="455.5" y2="188.3" stroke="#000" stroke-width="0.75"/>
<line x1="453.2" y1="211.6" x2="455.5" y2="211.6" stroke="#000" stroke-width="0.75"/>
<text x="453" y="140" font-size="2.7" text-anchor="end" font-weight="bold">0</text>
<text x="451.4" y="141.45" font-size="4.3" text-anchor="end" font-weight="bold">2</text>
<text x="453" y="164.2" font-size="2.7" text-anchor="end" font-weight="bold">-5</text>
<text x="450.5" y="165.65" font-size="4.3" text-anchor="end" font-weight="bold">2</text>
<text x="453" y="188.4" font-size="2.7" text-anchor="end" font-weight="bold">-10</text>
<text x="449" y="189.85" font-size="4.3" text-anchor="end" font-weight="bold">2</text>
<text x="453" y="211.7" font-size="2.7" text-anchor="end" font-weight="bold">-15</text>
<text x="449" y="213.15" font-size="4.3" text-anchor="end" font-weight="bold">2</text>
<line x1="455.5" y1="211.6" x2="548.9" y2="211.6" stroke="#000" stroke-width="0.75"/>
<line x1="482.2" y1="211.6" x2="482.2" y2="213.6" stroke="#000" stroke-width="0.75"/>
<line x1="522.5" y1="211.6" x2="522.5" y2="213.6" stroke="#000" stroke-width="0.75"/>
<path d="M482.2 168.0 V143.2 H522.5 V155.5" fill="none" stroke="#000" stroke-width="0.6"/>
<circle cx="501.2" cy="141.28" r="0.6" fill="#000"/>
<circle cx="504" cy="141.28" r="0.6" fill="#000"/>
<rect x="477.85" y="174.35" width="1.9" height="1.9" fill="#F01818"/>
<rect x="481.25" y="174.35" width="1.9" height="1.9" fill="#F01818"/>
<rect x="485.15" y="174.35" width="1.9" height="1.9" fill="#F01818"/>
<rect x="477.85" y="176.65" width="1.9" height="1.9" fill="#F01818"/>
<rect x="481.25" y="176.65" width="1.9" height="1.9" fill="#F01818"/>
<rect x="474.35" y="178.35" width="1.9" height="1.9" fill="#F01818"/>
<rect x="477.85" y="178.35" width="1.9" height="1.9" fill="#F01818"/>
<rect x="481.25" y="178.35" width="1.9" height="1.9" fill="#F01818"/>
<rect x="485.15" y="178.35" width="1.9" height="1.9" fill="#F01818"/>
<rect x="474.35" y="179.65" width="1.9" height="1.9" fill="#F01818"/>
<rect x="477.85" y="179.65" width="1.9" height="1.9" fill="#F01818"/>
<rect x="481.25" y="179.65" width="1.9" height="1.9" fill="#F01818"/>
<rect x="485.15" y="179.65" width="1.9" height="1.9" fill="#F01818"/>
<rect x="477.85" y="180.95" width="1.9" height="1.9" fill="#F01818"/>
<rect x="481.25" y="180.95" width="1.9" height="1.9" fill="#F01818"/>
<rect x="474.35" y="184.45" width="1.9" height="1.9" fill="#F01818"/>
<rect x="477.85" y="184.45" width="1.9" height="1.9" fill="#F01818"/>
<rect x="481.25" y="184.45" width="1.9" height="1.9" fill="#F01818"/>
<rect x="485.15" y="184.45" width="1.9" height="1.9" fill="#F01818"/>
<rect x="488.55" y="184.45" width="1.9" height="1.9" fill="#F01818"/>
<rect x="488.55" y="185.85" width="1.9" height="1.9" fill="#F01818"/>
<rect x="481.25" y="207.05" width="1.9" height="1.9" fill="#F01818"/>
<line x1="469" y1="180.5" x2="495.6" y2="180.5" stroke="#F01818" stroke-width="0.9"/>
<line x1="475.6" y1="179.3" x2="488.7" y2="179.3" stroke="#F01818" stroke-width="0.6"/>
<line x1="475.6" y1="181.9" x2="488.7" y2="181.9" stroke="#F01818" stroke-width="0.6"/>
<rect x="521.55" y="160.95" width="1.9" height="1.9" fill="#1A35F0"/>
<rect x="525.05" y="165.85" width="1.9" height="1.9" fill="#1A35F0"/>
<rect x="521.55" y="167.55" width="1.9" height="1.9" fill="#1A35F0"/>
<rect x="518.15" y="172.65" width="1.9" height="1.9" fill="#1A35F0"/>
<rect x="521.55" y="172.65" width="1.9" height="1.9" fill="#1A35F0"/>
<rect x="525.05" y="172.65" width="1.9" height="1.9" fill="#1A35F0"/>
<rect x="510.85" y="174.35" width="1.9" height="1.9" fill="#1A35F0"/>
<rect x="514.25" y="174.35" width="1.9" height="1.9" fill="#1A35F0"/>
<rect x="518.15" y="174.35" width="1.9" height="1.9" fill="#1A35F0"/>
<rect x="521.55" y="174.35" width="1.9" height="1.9" fill="#1A35F0"/>
<rect x="525.05" y="174.35" width="1.9" height="1.9" fill="#1A35F0"/>
<rect x="528.85" y="174.35" width="1.9" height="1.9" fill="#1A35F0"/>
<rect x="532.35" y="173.65" width="1.9" height="1.9" fill="#1A35F0"/>
<rect x="518.15" y="175.95" width="1.9" height="1.9" fill="#1A35F0"/>
<rect x="521.55" y="175.95" width="1.9" height="1.9" fill="#1A35F0"/>
<rect x="525.05" y="175.95" width="1.9" height="1.9" fill="#1A35F0"/>
<rect x="518.15" y="178.35" width="1.9" height="1.9" fill="#1A35F0"/>
<rect x="521.55" y="178.35" width="1.9" height="1.9" fill="#1A35F0"/>
<rect x="525.05" y="178.35" width="1.9" height="1.9" fill="#1A35F0"/>
<rect x="518.15" y="180.95" width="1.9" height="1.9" fill="#1A35F0"/>
<rect x="525.05" y="180.95" width="1.9" height="1.9" fill="#1A35F0"/>
<line x1="509.2" y1="172.4" x2="535.6" y2="172.4" stroke="#5060F0" stroke-width="0.9"/>
<line x1="515.6" y1="171.3" x2="529.5" y2="171.3" stroke="#1A35F0" stroke-width="0.6"/>
<line x1="515.6" y1="174.1" x2="529.5" y2="174.1" stroke="#1A35F0" stroke-width="0.6"/>
<text x="479.5" y="222.1" font-size="5.35" text-anchor="middle" font-weight="bold">Sensitive (n=18)</text>
<text x="525" y="222.1" font-size="5.35" text-anchor="middle" font-weight="bold">Resistant (n=18)</text>
<text x="442.6" y="174.2" font-size="5" text-anchor="middle" font-weight="bold" transform="rotate(-90 442.6 174.2)">Relative EZH2 expression</text>
<line x1="589.5" y1="140.75" x2="589.5" y2="211.5" stroke="#000" stroke-width="0.75"/>
<line x1="587.2" y1="140.75" x2="589.5" y2="140.75" stroke="#000" stroke-width="0.75"/>
<line x1="587.2" y1="150.75" x2="589.5" y2="150.75" stroke="#000" stroke-width="0.75"/>
<line x1="587.2" y1="161" x2="589.5" y2="161" stroke="#000" stroke-width="0.75"/>
<line x1="587.2" y1="171.25" x2="589.5" y2="171.25" stroke="#000" stroke-width="0.75"/>
<line x1="587.2" y1="181.25" x2="589.5" y2="181.25" stroke="#000" stroke-width="0.75"/>
<line x1="587.2" y1="191.5" x2="589.5" y2="191.5" stroke="#000" stroke-width="0.75"/>
<line x1="587.2" y1="201.5" x2="589.5" y2="201.5" stroke="#000" stroke-width="0.75"/>
<line x1="587.2" y1="211.5" x2="589.5" y2="211.5" stroke="#000" stroke-width="0.75"/>
<text x="587" y="140.85" font-size="2.7" text-anchor="end" font-weight="bold">-4</text>
<text x="584.5" y="142.3" font-size="4.3" text-anchor="end" font-weight="bold">2</text>
<text x="587" y="150.85" font-size="2.7" text-anchor="end" font-weight="bold">-5</text>
<text x="584.5" y="152.3" font-size="4.3" text-anchor="end" font-weight="bold">2</text>
<text x="587" y="161.1" font-size="2.7" text-anchor="end" font-weight="bold">-6</text>
<text x="584.5" y="162.55" font-size="4.3" text-anchor="end" font-weight="bold">2</text>
<text x="587" y="171.35" font-size="2.7" text-anchor="end" font-weight="bold">-7</text>
<text x="584.5" y="172.8" font-size="4.3" text-anchor="end" font-weight="bold">2</text>
<text x="587" y="181.35" font-size="2.7" text-anchor="end" font-weight="bold">-8</text>
<text x="584.5" y="182.8" font-size="4.3" text-anchor="end" font-weight="bold">2</text>
<text x="587" y="191.6" font-size="2.7" text-anchor="end" font-weight="bold">-9</text>
<text x="584.5" y="193.05" font-size="4.3" text-anchor="end" font-weight="bold">2</text>
<text x="587" y="201.6" font-size="2.7" text-anchor="end" font-weight="bold">-10</text>
<text x="583" y="203.05" font-size="4.3" text-anchor="end" font-weight="bold">2</text>
<text x="587" y="211.6" font-size="2.7" text-anchor="end" font-weight="bold">-11</text>
<text x="583" y="213.05" font-size="4.3" text-anchor="end" font-weight="bold">2</text>
<line x1="589.5" y1="211.5" x2="683.8" y2="211.5" stroke="#000" stroke-width="0.75"/>
<line x1="616.3" y1="211.5" x2="616.3" y2="213.5" stroke="#000" stroke-width="0.75"/>
<line x1="656.3" y1="211.5" x2="656.3" y2="213.5" stroke="#000" stroke-width="0.75"/>
<path d="M616.3 167.0 V138.9 H656.6 V141.5" fill="none" stroke="#000" stroke-width="0.6"/>
<circle cx="636.1" cy="136.28" r="0.6" fill="#000"/>
<circle cx="638.9" cy="136.28" r="0.6" fill="#000"/>
<rect x="617.55" y="171.95" width="1.9" height="1.9" fill="#F01818"/>
<rect x="621.25" y="173.05" width="1.9" height="1.9" fill="#F01818"/>
<rect x="610.35" y="174.75" width="1.9" height="1.9" fill="#F01818"/>
<rect x="614.05" y="175.65" width="1.9" height="1.9" fill="#F01818"/>
<rect x="617.55" y="175.65" width="1.9" height="1.9" fill="#F01818"/>
<rect x="621.25" y="178.55" width="1.9" height="1.9" fill="#F01818"/>
<rect x="614.05" y="178.05" width="1.9" height="1.9" fill="#F01818"/>
<rect x="610.35" y="179.85" width="1.9" height="1.9" fill="#F01818"/>
<rect x="614.05" y="179.85" width="1.9" height="1.9" fill="#F01818"/>
<rect x="617.55" y="179.85" width="1.9" height="1.9" fill="#F01818"/>
<rect x="617.55" y="181.75" width="1.9" height="1.9" fill="#F01818"/>
<rect x="621.25" y="181.75" width="1.9" height="1.9" fill="#F01818"/>
<rect x="621.25" y="183.95" width="1.9" height="1.9" fill="#F01818"/>
<rect x="614.05" y="183.95" width="1.9" height="1.9" fill="#F01818"/>
<rect x="614.05" y="188.55" width="1.9" height="1.9" fill="#F01818"/>
<rect x="617.55" y="192.85" width="1.9" height="1.9" fill="#F01818"/>
<rect x="614.05" y="194.05" width="1.9" height="1.9" fill="#F01818"/>
<rect x="614.05" y="197.45" width="1.9" height="1.9" fill="#F01818"/>
<rect x="614.05" y="201.15" width="1.9" height="1.9" fill="#F01818"/>
<line x1="603.3" y1="182.1" x2="629.8" y2="182.1" stroke="#F47070" stroke-width="1"/>
<line x1="610.7" y1="180.3" x2="622.7" y2="180.3" stroke="#F01818" stroke-width="0.6"/>
<line x1="610.7" y1="183.7" x2="622.7" y2="183.7" stroke="#F01818" stroke-width="0.6"/>
<rect x="655.95" y="144.75" width="1.9" height="1.9" fill="#1A35F0"/>
<rect x="655.95" y="149.95" width="1.9" height="1.9" fill="#1A35F0"/>
<rect x="652.25" y="150.85" width="1.9" height="1.9" fill="#1A35F0"/>
<rect x="655.95" y="153.65" width="1.9" height="1.9" fill="#1A35F0"/>
<rect x="659.15" y="157.15" width="1.9" height="1.9" fill="#1A35F0"/>
<rect x="651.75" y="159.15" width="1.9" height="1.9" fill="#1A35F0"/>
<rect x="655.95" y="158.25" width="1.9" height="1.9" fill="#1A35F0"/>
<rect x="655.05" y="160.45" width="1.9" height="1.9" fill="#1A35F0"/>
<rect x="659.15" y="160.45" width="1.9" height="1.9" fill="#1A35F0"/>
<rect x="652.25" y="163.25" width="1.9" height="1.9" fill="#1A35F0"/>
<rect x="659.15" y="163.25" width="1.9" height="1.9" fill="#1A35F0"/>
<rect x="655.95" y="164.55" width="1.9" height="1.9" fill="#1A35F0"/>
<rect x="652.25" y="165.65" width="1.9" height="1.9" fill="#1A35F0"/>
<rect x="652.25" y="169.35" width="1.9" height="1.9" fill="#1A35F0"/>
<rect x="659.15" y="170.05" width="1.9" height="1.9" fill="#1A35F0"/>
<rect x="655.95" y="171.95" width="1.9" height="1.9" fill="#1A35F0"/>
<rect x="655.95" y="174.85" width="1.9" height="1.9" fill="#1A35F0"/>
<rect x="655.95" y="181.75" width="1.9" height="1.9" fill="#1A35F0"/>
<line x1="643.4" y1="160.5" x2="669.9" y2="160.5" stroke="#6070F0" stroke-width="1"/>
<line x1="650.5" y1="158.3" x2="663.4" y2="158.3" stroke="#1A35F0" stroke-width="0.6"/>
<line x1="650.5" y1="163.3" x2="663.4" y2="163.3" stroke="#1A35F0" stroke-width="0.6"/>
<text x="614" y="222.1" font-size="5.35" text-anchor="middle" font-weight="bold">Sensitive (n=18)</text>
<text x="659.5" y="222.1" font-size="5.35" text-anchor="middle" font-weight="bold">Resistant (n=18)</text>
<text x="576.5" y="176" font-size="5" text-anchor="middle" font-weight="bold" transform="rotate(-90 576.5 176)">Relative METTL3 expression</text>
<text x="-0.3" y="245.7" font-size="11" font-weight="bold">G</text>
<text x="81.1" y="241.7" font-size="6" text-anchor="middle" font-weight="bold">PC9/GR</text>
<line x1="70" y1="245.3" x2="92.1" y2="245.3" stroke="#888" stroke-width="1"/>
<line x1="33.75" y1="250" x2="33.75" y2="321.5" stroke="#000" stroke-width="0.75"/>
<line x1="31.75" y1="250" x2="33.75" y2="250" stroke="#000" stroke-width="0.75"/>
<text x="31.25" y="251.63" font-size="4.6" text-anchor="end" font-weight="bold">120</text>
<line x1="31.75" y1="261.92" x2="33.75" y2="261.92" stroke="#000" stroke-width="0.75"/>
<text x="31.25" y="263.55" font-size="4.6" text-anchor="end" font-weight="bold">100</text>
<line x1="31.75" y1="273.83" x2="33.75" y2="273.83" stroke="#000" stroke-width="0.75"/>
<text x="31.25" y="275.46" font-size="4.6" text-anchor="end" font-weight="bold">80</text>
<line x1="31.75" y1="285.75" x2="33.75" y2="285.75" stroke="#000" stroke-width="0.75"/>
<text x="31.25" y="287.38" font-size="4.6" text-anchor="end" font-weight="bold">60</text>
<line x1="31.75" y1="297.67" x2="33.75" y2="297.67" stroke="#000" stroke-width="0.75"/>
<text x="31.25" y="299.3" font-size="4.6" text-anchor="end" font-weight="bold">40</text>
<line x1="31.75" y1="309.58" x2="33.75" y2="309.58" stroke="#000" stroke-width="0.75"/>
<text x="31.25" y="311.21" font-size="4.6" text-anchor="end" font-weight="bold">20</text>
<line x1="31.75" y1="321.5" x2="33.75" y2="321.5" stroke="#000" stroke-width="0.75"/>
<text x="31.25" y="323.13" font-size="4.6" text-anchor="end" font-weight="bold">0</text>
<line x1="33.75" y1="321.5" x2="130" y2="321.5" stroke="#000" stroke-width="0.75"/>
<line x1="33.75" y1="321.5" x2="33.75" y2="323.5" stroke="#000" stroke-width="0.75"/>
<line x1="57.8" y1="321.5" x2="57.8" y2="323.5" stroke="#000" stroke-width="0.75"/>
<line x1="81.9" y1="321.5" x2="81.9" y2="323.5" stroke="#000" stroke-width="0.75"/>
<line x1="105.9" y1="321.5" x2="105.9" y2="323.5" stroke="#000" stroke-width="0.75"/>
<line x1="130" y1="321.5" x2="130" y2="323.5" stroke="#000" stroke-width="0.75"/>
<text x="33.75" y="329.3" font-size="4.6" text-anchor="middle" font-weight="bold">0</text>
<text x="57.8" y="329.3" font-size="4.6" text-anchor="middle" font-weight="bold">5</text>
<text x="81.9" y="329.3" font-size="4.6" text-anchor="middle" font-weight="bold">10</text>
<text x="105.9" y="329.3" font-size="4.6" text-anchor="middle" font-weight="bold">15</text>
<text x="130" y="329.3" font-size="4.6" text-anchor="middle" font-weight="bold">20</text>
<line x1="33.75" y1="291.7" x2="105.2" y2="291.7" stroke="#a0a0a0" stroke-width="0.6"/>
<line x1="74.1" y1="291.7" x2="74.1" y2="321.5" stroke="#a0a0a0" stroke-width="0.6"/>
<line x1="81.9" y1="291.7" x2="81.9" y2="321.5" stroke="#a0a0a0" stroke-width="0.6"/>
<line x1="105.2" y1="291.7" x2="105.2" y2="321.5" stroke="#a0a0a0" stroke-width="0.6"/>
<path d="M33.75 261.6 C35.62 261.8 40.99 261.68 45 262.8 C49.01 263.92 53.63 266.18 57.8 268.3 C61.97 270.42 65.98 273.22 70 275.5 C74.02 277.78 77.92 280 81.9 282 C85.88 284 89.9 285.9 93.9 287.5 C97.9 289.1 101.88 290.13 105.9 291.6 C109.92 293.07 113.98 294.87 118 296.3 C122.02 297.73 128 299.55 130 300.2" fill="none" stroke="#111" stroke-width="0.8"/>
<path d="M33.75 261.6 C35.62 262.75 40.99 265.52 45 268.5 C49.01 271.48 53.63 276.08 57.8 279.5 C61.97 282.92 65.98 286.25 70 289 C74.02 291.75 77.92 293.95 81.9 296 C85.88 298.05 89.9 299.75 93.9 301.3 C97.9 302.85 101.88 304.08 105.9 305.3 C109.92 306.52 113.98 307.6 118 308.6 C122.02 309.6 128 310.85 130 311.3" fill="none" stroke="#F02020" stroke-width="0.8"/>
<path d="M33.75 261.6 C35.62 263.22 40.99 268.32 45 271.3 C49.01 274.28 53.63 276.97 57.8 279.5 C61.97 282.03 65.98 284.45 70 286.5 C74.02 288.55 77.92 290.22 81.9 291.8 C85.88 293.38 89.9 294.75 93.9 296 C97.9 297.25 101.88 298.3 105.9 299.3 C109.92 300.3 113.98 301.17 118 302 C122.02 302.83 128 303.92 130 304.3" fill="none" stroke="#2030F0" stroke-width="0.8"/>
<rect x="32.9" y="260.75" width="1.7" height="1.7" fill="#111"/>
<rect x="56.75" y="265.15" width="1.7" height="1.7" fill="#111"/>
<rect x="81.25" y="282.95" width="1.7" height="1.7" fill="#111"/>
<rect x="104.95" y="290.95" width="1.7" height="1.7" fill="#111"/>
<rect x="129.15" y="298.55" width="1.7" height="1.7" fill="#111"/>
<rect x="56.7" y="277.9" width="2.2" height="2.2" fill="#F02020"/>
<rect x="80.8" y="294.9" width="2.2" height="2.2" fill="#F02020"/>
<rect x="104.8" y="304.9" width="2.2" height="2.2" fill="#F02020"/>
<rect x="128.9" y="310.2" width="2.2" height="2.2" fill="#F02020"/>
<path d="M56.6 280.4 L57.8 278.4 L59 280.4Z" fill="#2030F0"/>
<path d="M80.7 292.7 L81.9 290.7 L83.1 292.7Z" fill="#2030F0"/>
<path d="M104.7 300.2 L105.9 298.2 L107.1 300.2Z" fill="#2030F0"/>
<path d="M128.8 305.2 L130 303.2 L131.2 305.2Z" fill="#2030F0"/>
<line x1="57.6" y1="264.7" x2="57.6" y2="267.3" stroke="#111" stroke-width="0.4"/>
<line x1="82.1" y1="282.5" x2="82.1" y2="285.1" stroke="#111" stroke-width="0.4"/>
<line x1="105.8" y1="290.5" x2="105.8" y2="293.1" stroke="#111" stroke-width="0.4"/>
<line x1="130" y1="298.1" x2="130" y2="300.7" stroke="#111" stroke-width="0.4"/>
<line x1="103.6" y1="253" x2="109" y2="253" stroke="#111" stroke-width="0.8"/>
<rect x="105.5" y="252.15" width="1.7" height="1.7" fill="#111"/>
<text x="112.3" y="254.3" font-size="3.7" font-weight="bold">si-NC</text>
<line x1="103.6" y1="257.5" x2="109" y2="257.5" stroke="#F02020" stroke-width="0.8"/>
<rect x="105.5" y="256.65" width="1.7" height="1.7" fill="#F02020"/>
<text x="112.3" y="258.8" font-size="3.7" font-weight="bold">si-EZH2</text>
<line x1="103.6" y1="262.3" x2="109" y2="262.3" stroke="#2030F0" stroke-width="0.8"/>
<rect x="105.5" y="261.45" width="1.7" height="1.7" fill="#2030F0"/>
<text x="112.3" y="263.6" font-size="3.7" font-weight="bold">si-METTL3</text>
<text x="81.9" y="335.3" font-size="5.3" text-anchor="middle" font-weight="bold">Gefitinib concentration (&#956;M)</text>
<text x="21.8" y="286" font-size="5.3" text-anchor="middle" font-weight="bold" transform="rotate(-90 21.8 286)">Cell viability (% of control)</text>
<text x="145" y="246.4" font-size="11" font-weight="bold">H</text>
<text x="216.2" y="242.3" font-size="6" text-anchor="middle" font-weight="bold">PC9/GR</text>
<line x1="205" y1="246" x2="227.1" y2="246" stroke="#999" stroke-width="1.3"/>
<line x1="168.75" y1="251.25" x2="168.75" y2="323.25" stroke="#000" stroke-width="0.75"/>
<line x1="166.75" y1="251.25" x2="168.75" y2="251.25" stroke="#000" stroke-width="0.75"/>
<text x="166.25" y="252.88" font-size="4.6" text-anchor="end" font-weight="bold">1.5</text>
<line x1="166.75" y1="275.25" x2="168.75" y2="275.25" stroke="#000" stroke-width="0.75"/>
<text x="166.25" y="276.88" font-size="4.6" text-anchor="end" font-weight="bold">1.0</text>
<line x1="166.75" y1="299.25" x2="168.75" y2="299.25" stroke="#000" stroke-width="0.75"/>
<text x="166.25" y="300.88" font-size="4.6" text-anchor="end" font-weight="bold">0.5</text>
<line x1="166.75" y1="323.25" x2="168.75" y2="323.25" stroke="#000" stroke-width="0.75"/>
<text x="166.25" y="324.88" font-size="4.6" text-anchor="end" font-weight="bold">0.0</text>
<line x1="168.75" y1="323.25" x2="266.3" y2="323.25" stroke="#000" stroke-width="0.75"/>
<line x1="169.5" y1="323.25" x2="169.5" y2="325.25" stroke="#000" stroke-width="0.75"/>
<line x1="193.5" y1="323.25" x2="193.5" y2="325.25" stroke="#000" stroke-width="0.75"/>
<line x1="217.5" y1="323.25" x2="217.5" y2="325.25" stroke="#000" stroke-width="0.75"/>
<line x1="241.4" y1="323.25" x2="241.4" y2="325.25" stroke="#000" stroke-width="0.75"/>
<line x1="265.4" y1="323.25" x2="265.4" y2="325.25" stroke="#000" stroke-width="0.75"/>
<text x="169.5" y="330.5" font-size="4.6" text-anchor="middle" font-weight="bold">0</text>
<text x="193.5" y="330.5" font-size="4.6" text-anchor="middle" font-weight="bold">24</text>
<text x="217.5" y="330.5" font-size="4.6" text-anchor="middle" font-weight="bold">48</text>
<text x="241.4" y="330.5" font-size="4.6" text-anchor="middle" font-weight="bold">72</text>
<text x="265.4" y="330.5" font-size="4.6" text-anchor="middle" font-weight="bold">96</text>
<path d="M169.5 306.2 L193.5 299.5 L217.5 293.2 L241.4 283 L265.4 270.8" fill="none" stroke="#111" stroke-width="0.7"/>
<circle cx="169.5" cy="306.2" r="0.75" fill="#111"/>
<circle cx="193.5" cy="299.5" r="0.75" fill="#111"/>
<circle cx="217.5" cy="293.2" r="0.75" fill="#111"/>
<circle cx="241.4" cy="283" r="0.75" fill="#111"/>
<circle cx="265.4" cy="270.8" r="0.75" fill="#111"/>
<path d="M169.5 306.8 L193.5 300.6 L217.5 294.6 L241.4 285.2 L265.4 271.6" fill="none" stroke="#111" stroke-width="0.7" stroke-dasharray="1.4 0.9"/>
<circle cx="169.5" cy="306.8" r="0.75" fill="#111"/>
<circle cx="193.5" cy="300.6" r="0.75" fill="#111"/>
<circle cx="217.5" cy="294.6" r="0.75" fill="#111"/>
<circle cx="241.4" cy="285.2" r="0.75" fill="#111"/>
<circle cx="265.4" cy="271.6" r="0.75" fill="#111"/>
<path d="M169.5 306.2 L193.5 301.3 L217.5 296.3 L241.4 289.3 L265.4 281.3" fill="none" stroke="#2A3AF0" stroke-width="0.7"/>
<circle cx="169.5" cy="306.2" r="0.75" fill="#2A3AF0"/>
<circle cx="193.5" cy="301.3" r="0.75" fill="#2A3AF0"/>
<circle cx="217.5" cy="296.3" r="0.75" fill="#2A3AF0"/>
<circle cx="241.4" cy="289.3" r="0.75" fill="#2A3AF0"/>
<circle cx="265.4" cy="281.3" r="0.75" fill="#2A3AF0"/>
<path d="M169.5 306.5 L193.5 302.6 L217.5 298.8 L241.4 293.8 L265.4 286.3" fill="none" stroke="#F02020" stroke-width="0.7"/>
<circle cx="169.5" cy="306.5" r="0.75" fill="#F02020"/>
<circle cx="193.5" cy="302.6" r="0.75" fill="#F02020"/>
<circle cx="217.5" cy="298.8" r="0.75" fill="#F02020"/>
<circle cx="241.4" cy="293.8" r="0.75" fill="#F02020"/>
<circle cx="265.4" cy="286.3" r="0.75" fill="#F02020"/>
<path d="M169.5 307.2 L193.5 304.6 L217.5 303 L241.4 300.6 L265.4 296.3" fill="none" stroke="#2A3AF0" stroke-width="0.7" stroke-dasharray="1.4 0.9"/>
<circle cx="169.5" cy="307.2" r="0.75" fill="#2A3AF0"/>
<circle cx="193.5" cy="304.6" r="0.75" fill="#2A3AF0"/>
<circle cx="217.5" cy="303" r="0.75" fill="#2A3AF0"/>
<circle cx="241.4" cy="300.6" r="0.75" fill="#2A3AF0"/>
<circle cx="265.4" cy="296.3" r="0.75" fill="#2A3AF0"/>
<path d="M169.5 307.2 L193.5 305.2 L217.5 303.4 L241.4 301.8 L265.4 300.2" fill="none" stroke="#F02020" stroke-width="0.7" stroke-dasharray="1.4 0.9"/>
<circle cx="169.5" cy="307.2" r="0.75" fill="#F02020"/>
<circle cx="193.5" cy="305.2" r="0.75" fill="#F02020"/>
<circle cx="217.5" cy="303.4" r="0.75" fill="#F02020"/>
<circle cx="241.4" cy="301.8" r="0.75" fill="#F02020"/>
<circle cx="265.4" cy="300.2" r="0.75" fill="#F02020"/>
<line x1="217.5" y1="288" x2="217.5" y2="288" stroke="#000" stroke-width="0"/>
<line x1="241.4" y1="288" x2="241.4" y2="288" stroke="#000" stroke-width="0"/>
<line x1="265.4" y1="288" x2="265.4" y2="288" stroke="#000" stroke-width="0"/>
<line x1="241.4" y1="281" x2="241.4" y2="287" stroke="#111" stroke-width="0.45"/>
<line x1="265.4" y1="268.6" x2="265.4" y2="273.6" stroke="#111" stroke-width="0.45"/>
<line x1="217.5" y1="291.5" x2="217.5" y2="295.5" stroke="#111" stroke-width="0.45"/>
<line x1="178.3" y1="251.3" x2="184.5" y2="251.3" stroke="#111" stroke-width="0.8"/>
<circle cx="181.4" cy="251.3" r="0.9" fill="#111"/>
<text x="188" y="252.6" font-size="3.6" font-weight="bold">si-NC Gef-</text>
<line x1="178.3" y1="256.3" x2="184.5" y2="256.3" stroke="#F02020" stroke-width="0.8"/>
<rect x="180.5" y="255.4" width="1.8" height="1.8" fill="#F02020"/>
<text x="188" y="257.6" font-size="3.6" font-weight="bold">si-EZH2 Gef-</text>
<line x1="178.3" y1="261.3" x2="184.5" y2="261.3" stroke="#2A3AF0" stroke-width="0.8"/>
<path d="M180.4 262.2 L181.4 260.3 L182.4 262.2Z" fill="#2A3AF0"/>
<text x="188" y="262.6" font-size="3.6" font-weight="bold">si-METTL3 Gef-</text>
<line x1="178.3" y1="266.3" x2="184.5" y2="266.3" stroke="#111" stroke-width="0.8" stroke-dasharray="1 0.7"/>
<circle cx="181.4" cy="266.3" r="0.9" fill="#111"/>
<text x="188" y="267.6" font-size="3.6" font-weight="bold">si-NC Gef+</text>
<line x1="178.3" y1="271.3" x2="184.5" y2="271.3" stroke="#F02020" stroke-width="0.8" stroke-dasharray="1 0.7"/>
<rect x="180.5" y="270.4" width="1.8" height="1.8" fill="#F02020"/>
<text x="188" y="272.6" font-size="3.6" font-weight="bold">si-EZH2 Gef+</text>
<line x1="178.3" y1="276.3" x2="184.5" y2="276.3" stroke="#2A3AF0" stroke-width="0.8" stroke-dasharray="1 0.7"/>
<path d="M180.4 277.2 L181.4 275.3 L182.4 277.2Z" fill="#2A3AF0"/>
<text x="188" y="277.6" font-size="3.6" font-weight="bold">si-METTL3 Gef+</text>
<line x1="268.5" y1="268.7" x2="268.5" y2="287.2" stroke="#111" stroke-width="0.8"/>
<line x1="271.5" y1="287.2" x2="271.5" y2="298.9" stroke="#111" stroke-width="0.8"/>
<line x1="275.5" y1="271.2" x2="275.5" y2="298.9" stroke="#111" stroke-width="0.8"/>
<circle cx="270.4" cy="276.3" r="0.5" fill="#000"/>
<circle cx="270.4" cy="278.8" r="0.5" fill="#000"/>
<circle cx="273.3" cy="288.2" r="0.5" fill="#000"/>
<circle cx="273.3" cy="292" r="0.5" fill="#000"/>
<circle cx="277.2" cy="283.2" r="0.5" fill="#000"/>
<circle cx="277.2" cy="287.2" r="0.5" fill="#000"/>
<text x="217.5" y="336.3" font-size="5.3" text-anchor="middle" font-weight="bold">Incubation time (h)</text>
<text x="157" y="287" font-size="5.3" text-anchor="middle" font-weight="bold" transform="rotate(-90 157 287)">Cell viability (OD 490nm)</text>
<text x="289.8" y="245.8" font-size="11" font-weight="bold">I</text>
<text x="368" y="242.4" font-size="6.1" text-anchor="middle" font-weight="bold">PC9/GR</text>
<line x1="314" y1="246" x2="414.4" y2="246" stroke="#222" stroke-width="0.9"/>
<text x="327.6" y="253.9" font-size="5" text-anchor="middle" font-weight="bold">si-NC</text>
<text x="362.8" y="253.9" font-size="5" text-anchor="middle" font-weight="bold">si-EZH2</text>
<text x="397.8" y="253.9" font-size="5" text-anchor="middle" font-weight="bold">si-METTL3</text>
<text x="301.5" y="276" font-size="5" text-anchor="middle" font-weight="bold">Gef-</text>
<text x="301.5" y="309.5" font-size="5" text-anchor="middle" font-weight="bold">Gef+</text>
<circle cx="327.6" cy="273.1" r="15.5" fill="#e6e6e6"/>
<circle cx="327.6" cy="273.1" r="14.72" fill="url(#dishgrad)" opacity="0.45"/>
<circle cx="327.6" cy="273.1" r="15" fill="#000" filter="url(#dsp1)"/>
<circle cx="327.6" cy="273.1" r="14.6" fill="none" stroke="#c8c8c8" stroke-width="1.0"/>
<circle cx="327.6" cy="273.1" r="15.2" fill="none" stroke="#777" stroke-width="0.6"/>
<circle cx="362.9" cy="273.1" r="15.5" fill="#ebebeb"/>
<circle cx="362.9" cy="273.1" r="15" fill="#000" filter="url(#dsp2)"/>
<circle cx="362.9" cy="273.1" r="14.6" fill="none" stroke="#c8c8c8" stroke-width="1.0"/>
<circle cx="362.9" cy="273.1" r="15.2" fill="none" stroke="#777" stroke-width="0.6"/>
<circle cx="397.7" cy="273.1" r="15.5" fill="#ebebeb"/>
<circle cx="397.7" cy="273.1" r="15" fill="#000" filter="url(#dsp3)"/>
<circle cx="397.7" cy="273.1" r="14.6" fill="none" stroke="#c8c8c8" stroke-width="1.0"/>
<circle cx="397.7" cy="273.1" r="15.2" fill="none" stroke="#777" stroke-width="0.6"/>
<circle cx="327.6" cy="308.3" r="15.5" fill="#e6e6e6"/>
<circle cx="327.6" cy="308.3" r="14.72" fill="url(#dishgrad)" opacity="0.45"/>
<circle cx="327.6" cy="308.3" r="15" fill="#000" filter="url(#dsp4)"/>
<circle cx="327.6" cy="308.3" r="14.6" fill="none" stroke="#c8c8c8" stroke-width="1.0"/>
<circle cx="327.6" cy="308.3" r="15.2" fill="none" stroke="#777" stroke-width="0.6"/>
<circle cx="362.9" cy="308.3" r="15.5" fill="#ebebeb"/>
<circle cx="362.9" cy="308.3" r="15" fill="#000" filter="url(#dsp5)"/>
<circle cx="362.9" cy="308.3" r="14.6" fill="none" stroke="#c8c8c8" stroke-width="1.0"/>
<circle cx="362.9" cy="308.3" r="15.2" fill="none" stroke="#777" stroke-width="0.6"/>
<circle cx="397.7" cy="308.3" r="15.5" fill="#ebebeb"/>
<circle cx="397.7" cy="308.3" r="15" fill="#000" filter="url(#dsp6)"/>
<circle cx="397.7" cy="308.3" r="14.6" fill="none" stroke="#c8c8c8" stroke-width="1.0"/>
<circle cx="397.7" cy="308.3" r="15.2" fill="none" stroke="#777" stroke-width="0.6"/>
<line x1="454.25" y1="251.25" x2="454.25" y2="323.25" stroke="#000" stroke-width="0.75"/>
<line x1="452.25" y1="251.25" x2="454.25" y2="251.25" stroke="#000" stroke-width="0.75"/>
<text x="451.75" y="252.88" font-size="4.6" text-anchor="end" font-weight="bold">500</text>
<line x1="452.25" y1="265.65" x2="454.25" y2="265.65" stroke="#000" stroke-width="0.75"/>
<text x="451.75" y="267.28" font-size="4.6" text-anchor="end" font-weight="bold">400</text>
<line x1="452.25" y1="280.05" x2="454.25" y2="280.05" stroke="#000" stroke-width="0.75"/>
<text x="451.75" y="281.68" font-size="4.6" text-anchor="end" font-weight="bold">300</text>
<line x1="452.25" y1="294.45" x2="454.25" y2="294.45" stroke="#000" stroke-width="0.75"/>
<text x="451.75" y="296.08" font-size="4.6" text-anchor="end" font-weight="bold">200</text>
<line x1="452.25" y1="308.85" x2="454.25" y2="308.85" stroke="#000" stroke-width="0.75"/>
<text x="451.75" y="310.48" font-size="4.6" text-anchor="end" font-weight="bold">100</text>
<line x1="452.25" y1="323.25" x2="454.25" y2="323.25" stroke="#000" stroke-width="0.75"/>
<text x="451.75" y="324.88" font-size="4.6" text-anchor="end" font-weight="bold">0</text>
<rect x="458.3" y="263.3" width="7.7" height="59.95" fill="#fff" stroke="#000" stroke-width="0.6"/>
<rect x="471.3" y="266.3" width="8.2" height="56.95" fill="#000"/>
<rect x="491.6" y="293.8" width="7.6" height="29.45" fill="#fff" stroke="#000" stroke-width="0.6"/>
<rect x="504.3" y="307" width="7.7" height="16.25" fill="#000"/>
<rect x="524.1" y="286.3" width="7.4" height="36.95" fill="#fff" stroke="#000" stroke-width="0.6"/>
<rect x="536.8" y="313.3" width="7.7" height="9.95" fill="#000"/>
<line x1="462.5" y1="261.5" x2="462.5" y2="263.3" stroke="#111" stroke-width="0.8"/>
<line x1="458.85" y1="261.5" x2="465.35" y2="261.5" stroke="#111" stroke-width="0.8"/>
<line x1="475.5" y1="264.3" x2="475.5" y2="266.3" stroke="#111" stroke-width="0.8"/>
<line x1="472.15" y1="264.3" x2="478.65" y2="264.3" stroke="#111" stroke-width="0.8"/>
<line x1="495.5" y1="290.3" x2="495.5" y2="293.8" stroke="#111" stroke-width="0.8"/>
<line x1="492.15" y1="290.3" x2="498.65" y2="290.3" stroke="#111" stroke-width="0.8"/>
<line x1="508.5" y1="304.9" x2="508.5" y2="307" stroke="#111" stroke-width="0.8"/>
<line x1="504.95" y1="304.9" x2="511.45" y2="304.9" stroke="#111" stroke-width="0.8"/>
<line x1="527.5" y1="284.6" x2="527.5" y2="286.3" stroke="#111" stroke-width="0.8"/>
<line x1="524.55" y1="284.6" x2="531.05" y2="284.6" stroke="#111" stroke-width="0.8"/>
<line x1="540.5" y1="311.4" x2="540.5" y2="313.3" stroke="#111" stroke-width="0.8"/>
<line x1="537.35" y1="311.4" x2="543.85" y2="311.4" stroke="#111" stroke-width="0.8"/>
<line x1="454.25" y1="323.25" x2="550" y2="323.25" stroke="#000" stroke-width="0.75"/>
<line x1="468.8" y1="323.25" x2="468.8" y2="325.25" stroke="#000" stroke-width="0.75"/>
<line x1="501.7" y1="323.25" x2="501.7" y2="325.25" stroke="#000" stroke-width="0.75"/>
<line x1="534.2" y1="323.25" x2="534.2" y2="325.25" stroke="#000" stroke-width="0.75"/>
<line x1="463" y1="255.5" x2="527.5" y2="255.5" stroke="#111" stroke-width="0.6"/>
<circle cx="493.5" cy="253.5" r="0.45" fill="#000"/>
<circle cx="495.5" cy="253.5" r="0.45" fill="#000"/>
<line x1="463" y1="258.5" x2="487" y2="258.5" stroke="#111" stroke-width="0.6"/>
<circle cx="477.8" cy="256.5" r="0.45" fill="#000"/>
<circle cx="479.8" cy="256.5" r="0.45" fill="#000"/>
<line x1="475.5" y1="260.5" x2="541.3" y2="260.5" stroke="#111" stroke-width="0.6"/>
<circle cx="506.5" cy="258.5" r="0.45" fill="#000"/>
<circle cx="508.5" cy="258.5" r="0.45" fill="#000"/>
<line x1="475.5" y1="263.5" x2="508" y2="263.5" stroke="#111" stroke-width="0.6"/>
<circle cx="491.5" cy="261.5" r="0.45" fill="#000"/>
<circle cx="493.5" cy="261.5" r="0.45" fill="#000"/>
<line x1="495" y1="288.5" x2="508" y2="288.5" stroke="#111" stroke-width="0.6"/>
<circle cx="500.3" cy="286.5" r="0.45" fill="#000"/>
<circle cx="502.3" cy="286.5" r="0.45" fill="#000"/>
<line x1="527.5" y1="282.5" x2="540.5" y2="282.5" stroke="#111" stroke-width="0.6"/>
<circle cx="532.8" cy="280.5" r="0.45" fill="#000"/>
<circle cx="534.8" cy="280.5" r="0.45" fill="#000"/>
<text x="468.8" y="332.3" font-size="5" text-anchor="middle" font-weight="bold">si-NC</text>
<text x="500.6" y="332.3" font-size="5" text-anchor="middle" font-weight="bold">si-EZH2</text>
<text x="533.8" y="332.3" font-size="5" text-anchor="middle" font-weight="bold">si-METTL3</text>
<text x="440.6" y="287.5" font-size="5.3" text-anchor="middle" font-weight="bold" transform="rotate(-90 440.6 287.5)">Number of colonies</text>
<rect x="533.8" y="246.2" width="5" height="1.8" fill="#fff" stroke="#000" stroke-width="0.5"/>
<rect x="533.8" y="250.9" width="5" height="1.8" fill="#000"/>
<text x="540.4" y="248.7" font-size="3.9" font-weight="bold">Gef-</text>
<text x="540.4" y="253.4" font-size="3.9" font-weight="bold">Gef+</text>
<text x="560.6" y="245.6" font-size="11" font-weight="bold">J</text>
<text x="631" y="243.7" font-size="6" text-anchor="middle" font-weight="bold">PC9/GR</text>
<line x1="620" y1="246.4" x2="642.1" y2="246.4" stroke="#555" stroke-width="0.9"/>
<line x1="582" y1="252.5" x2="582" y2="323.25" stroke="#000" stroke-width="0.75"/>
<line x1="580" y1="252.5" x2="582" y2="252.5" stroke="#000" stroke-width="0.75"/>
<text x="579.4" y="253.88" font-size="3.9" text-anchor="end" font-weight="bold">50</text>
<line x1="580" y1="266.65" x2="582" y2="266.65" stroke="#000" stroke-width="0.75"/>
<text x="579.4" y="268.03" font-size="3.9" text-anchor="end" font-weight="bold">40</text>
<line x1="580" y1="280.8" x2="582" y2="280.8" stroke="#000" stroke-width="0.75"/>
<text x="579.4" y="282.18" font-size="3.9" text-anchor="end" font-weight="bold">30</text>
<line x1="580" y1="294.95" x2="582" y2="294.95" stroke="#000" stroke-width="0.75"/>
<text x="579.4" y="296.33" font-size="3.9" text-anchor="end" font-weight="bold">20</text>
<line x1="580" y1="309.1" x2="582" y2="309.1" stroke="#000" stroke-width="0.75"/>
<text x="579.4" y="310.48" font-size="3.9" text-anchor="end" font-weight="bold">10</text>
<line x1="580" y1="323.25" x2="582" y2="323.25" stroke="#000" stroke-width="0.75"/>
<text x="579.4" y="324.63" font-size="3.9" text-anchor="end" font-weight="bold">0</text>
<rect x="590.4" y="293" width="14.1" height="30.25" fill="#469ECC"/>
<rect x="613.7" y="259.3" width="14.2" height="63.95" fill="#E89655"/>
<rect x="637" y="276.8" width="14" height="46.45" fill="#F54042"/>
<rect x="660.2" y="267" width="13.7" height="56.25" fill="#7B7B7B"/>
<line x1="581.5" y1="323.5" x2="682.8" y2="323.5" stroke="#000" stroke-width="0.75"/>
<line x1="597.3" y1="323.5" x2="597.3" y2="325.5" stroke="#000" stroke-width="0.75"/>
<line x1="620.6" y1="323.5" x2="620.6" y2="325.5" stroke="#000" stroke-width="0.75"/>
<line x1="644" y1="323.5" x2="644" y2="325.5" stroke="#000" stroke-width="0.75"/>
<line x1="667.1" y1="323.5" x2="667.1" y2="325.5" stroke="#000" stroke-width="0.75"/>
<line x1="597.5" y1="289.5" x2="597.5" y2="293" stroke="#111" stroke-width="0.8"/>
<line x1="593.7" y1="289.5" x2="600.9" y2="289.5" stroke="#111" stroke-width="0.8"/>
<line x1="620.5" y1="257" x2="620.5" y2="259.3" stroke="#111" stroke-width="0.8"/>
<line x1="616.95" y1="257" x2="624.25" y2="257" stroke="#111" stroke-width="0.8"/>
<line x1="644.5" y1="268.3" x2="644.5" y2="276.8" stroke="#111" stroke-width="0.8"/>
<line x1="640.25" y1="268.3" x2="647.75" y2="268.3" stroke="#111" stroke-width="0.8"/>
<line x1="667.5" y1="265.3" x2="667.5" y2="267" stroke="#111" stroke-width="0.8"/>
<line x1="663.3" y1="265.3" x2="670.9" y2="265.3" stroke="#111" stroke-width="0.8"/>
<circle cx="597.5" cy="297.8" r="0.8" fill="#000"/>
<circle cx="618.3" cy="260.4" r="0.8" fill="#000"/>
<circle cx="623.1" cy="260" r="0.8" fill="#000"/>
<circle cx="644" cy="280.5" r="0.8" fill="#000"/>
<circle cx="644" cy="282.8" r="0.8" fill="#000"/>
<circle cx="667.2" cy="268.7" r="0.8" fill="#000"/>
<circle cx="619.6" cy="255.51" r="0.54" fill="#000"/>
<circle cx="621.6" cy="255.51" r="0.54" fill="#000"/>
<circle cx="643" cy="264.61" r="0.54" fill="#000"/>
<circle cx="645" cy="264.61" r="0.54" fill="#000"/>
<circle cx="666.1" cy="263.21" r="0.54" fill="#000"/>
<circle cx="668.1" cy="263.21" r="0.54" fill="#000"/>
<text x="601.1" y="329.9" font-size="5.6" text-anchor="end" font-weight="bold" transform="rotate(-45 601.1 329.9)">si-NC</text>
<text x="624.4" y="329.9" font-size="5.6" text-anchor="end" font-weight="bold" transform="rotate(-45 624.4 329.9)">si-LINC00969</text>
<text x="647.8" y="329.9" font-size="5.6" text-anchor="end" font-weight="bold" transform="rotate(-45 647.8 329.9)">si-EZH2</text>
<text x="670.9" y="329.9" font-size="5.6" text-anchor="end" font-weight="bold" transform="rotate(-45 670.9 329.9)">si-METTL3</text>
<text x="570.4" y="286.6" font-size="6.1" text-anchor="middle" font-weight="bold" transform="rotate(-90 570.4 286.6)">LDH release (%)</text>
<text x="0.2" y="360.7" font-size="11" font-weight="bold">K</text>
<text x="70.8" y="368.1" font-size="6" text-anchor="middle" font-weight="bold">PC9/GR</text>
<line x1="14" y1="370.1" x2="130.5" y2="370.1" stroke="#222" stroke-width="0.9"/>
<text x="31.4" y="375.6" font-size="4.7" text-anchor="middle">si-NC</text>
<text x="71.45" y="375.6" font-size="4.7" text-anchor="middle">si-EZH2</text>
<text x="111" y="375.6" font-size="4.7" text-anchor="middle">si-METTL3</text>
<rect x="13.4" y="378.1" width="36.6" height="36.6" fill="url(#fluog)"/><g fill="#78EC78" filter="url(#blur03)"><circle cx="21.33" cy="388.6" r="1.17"/><circle cx="21.52" cy="388.08" r="1.01"/><circle cx="17.59" cy="388.12" r="1.03"/><circle cx="26.1" cy="383.94" r="0.89"/><circle cx="16.27" cy="391.1" r="1.06"/><circle cx="15.59" cy="392.82" r="1.18"/><circle cx="24.15" cy="389.16" r="0.82"/><circle cx="15.21" cy="388.28" r="0.78"/><circle cx="17.66" cy="385.42" r="0.76"/><circle cx="21.5" cy="387.41" r="1.13"/><circle cx="22.27" cy="389.4" r="0.97"/><circle cx="24.27" cy="387.57" r="0.88"/><circle cx="28.97" cy="392.96" r="1.13"/><circle cx="24.91" cy="386.15" r="0.85"/><circle cx="19.05" cy="383.7" r="1.09"/><circle cx="20.61" cy="391.47" r="0.92"/><circle cx="28.41" cy="391.47" r="0.75"/><circle cx="17.94" cy="392.1" r="0.96"/><circle cx="28.73" cy="386.97" r="0.78"/><circle cx="23.81" cy="390.79" r="0.87"/><circle cx="16.22" cy="386.33" r="1.18"/><circle cx="25.61" cy="384.18" r="0.86"/><circle cx="16.41" cy="383.6" r="1.11"/><circle cx="17.49" cy="388.59" r="0.95"/><circle cx="17.67" cy="390.32" r="0.81"/><circle cx="24.01" cy="384.17" r="0.94"/><circle cx="39.55" cy="381.7" r="1.19"/><circle cx="46.64" cy="382.04" r="1.15"/><circle cx="39.53" cy="382.94" r="1.13"/><circle cx="44.7" cy="380" r="1.2"/><circle cx="39.56" cy="381.58" r="1.1"/><circle cx="40.95" cy="381.96" r="0.78"/><circle cx="38.08" cy="384.83" r="0.86"/><circle cx="44.22" cy="382.72" r="0.95"/><circle cx="48.51" cy="383.84" r="1.01"/><circle cx="47.4" cy="380.83" r="0.82"/><circle cx="47.9" cy="387.18" r="0.86"/><circle cx="39.28" cy="386.39" r="1.17"/><circle cx="39.36" cy="388.5" r="1.15"/><circle cx="44.24" cy="383.21" r="0.8"/><circle cx="37.46" cy="388.63" r="0.86"/><circle cx="45.45" cy="381.57" r="1.12"/><circle cx="44.16" cy="381.93" r="0.83"/><circle cx="45.64" cy="379.69" r="0.85"/><circle cx="43.71" cy="387.52" r="1.03"/><circle cx="40.36" cy="388.17" r="0.84"/><circle cx="43.1" cy="399.92" r="0.95"/><circle cx="43.36" cy="399.09" r="0.92"/><circle cx="46.43" cy="398.68" r="0.91"/><circle cx="48.35" cy="406.32" r="1.05"/><circle cx="47.15" cy="402.76" r="0.81"/><circle cx="43.21" cy="397.66" r="1.16"/><circle cx="47.21" cy="406.16" r="0.76"/><circle cx="46.82" cy="401.84" r="1.08"/><circle cx="44.91" cy="406.49" r="0.78"/><circle cx="46.28" cy="404.13" r="1.16"/><circle cx="47.42" cy="403.83" r="1.11"/><circle cx="33.83" cy="400.41" r="1.06"/><circle cx="33.76" cy="402.48" r="0.94"/><circle cx="33.28" cy="402.45" r="1.01"/><circle cx="32.55" cy="400.53" r="1.01"/><circle cx="32.48" cy="399.32" r="1.04"/><circle cx="29.44" cy="411.18" r="1.08"/><circle cx="24" cy="409.59" r="1.01"/><circle cx="24.46" cy="410.72" r="0.79"/><circle cx="27.25" cy="401.83" r="1.02"/><circle cx="24.83" cy="404.03" r="1.06"/><circle cx="24.98" cy="408.26" r="1.16"/><circle cx="22.8" cy="401.62" r="0.89"/><circle cx="26.6" cy="403.73" r="0.83"/><circle cx="28.65" cy="408.76" r="0.95"/><circle cx="28.53" cy="405.1" r="1.05"/><circle cx="22.29" cy="406.24" r="1.11"/><circle cx="28.73" cy="411.18" r="0.92"/><circle cx="25.75" cy="404.98" r="0.81"/><circle cx="24.97" cy="410.71" r="1.13"/><circle cx="26.9" cy="411.95" r="0.87"/><circle cx="22.02" cy="406.46" r="0.87"/><circle cx="35.71" cy="412.74" r="1.03"/><circle cx="37.95" cy="412.45" r="1.13"/><circle cx="41.86" cy="412.86" r="0.78"/><circle cx="34.33" cy="413.63" r="1.01"/></g><rect x="14.2" y="394.85" width="2.4" height="0.9" fill="#E03838"/>
<rect x="53.3" y="378.1" width="36.6" height="36.6" fill="url(#fluog)"/><g fill="#78EC78" filter="url(#blur03)"><circle cx="57.82" cy="385.07" r="1.05"/><circle cx="57.12" cy="381.24" r="1.11"/><circle cx="59.33" cy="384.51" r="1"/><circle cx="59.13" cy="379.95" r="0.95"/><circle cx="55.64" cy="387.56" r="0.78"/><circle cx="60.23" cy="379.25" r="1.06"/><circle cx="56.86" cy="382.55" r="1.13"/><circle cx="54.63" cy="379.11" r="1.16"/><circle cx="58.06" cy="379.41" r="1.19"/><circle cx="61.13" cy="379.63" r="0.94"/><circle cx="55.45" cy="381.63" r="1.03"/><circle cx="55.64" cy="385.47" r="0.77"/><circle cx="55.7" cy="386.66" r="0.93"/><circle cx="57.43" cy="384.46" r="0.96"/><circle cx="71.94" cy="380.6" r="1.19"/><circle cx="67.22" cy="379.77" r="1.05"/><circle cx="67.22" cy="379.23" r="1.11"/><circle cx="57.82" cy="388.79" r="1.04"/><circle cx="55.12" cy="390.05" r="0.84"/><circle cx="57.88" cy="390.24" r="1.18"/><circle cx="60.27" cy="395.51" r="0.83"/><circle cx="65.59" cy="389.01" r="0.84"/><circle cx="63.48" cy="395.03" r="0.75"/><circle cx="57.72" cy="393.48" r="0.9"/><circle cx="57.4" cy="385.09" r="0.77"/><circle cx="61.93" cy="395.82" r="1.2"/><circle cx="60.54" cy="385.26" r="0.9"/><circle cx="63.95" cy="394.15" r="1.04"/><circle cx="57.25" cy="390.8" r="0.96"/><circle cx="62.02" cy="387.89" r="1.18"/><circle cx="65.23" cy="386.78" r="0.88"/><circle cx="64.98" cy="388.06" r="1.17"/><circle cx="60.68" cy="392.66" r="1.07"/><circle cx="57.07" cy="388.14" r="0.86"/><circle cx="62.7" cy="392.64" r="0.81"/><circle cx="77.25" cy="389.18" r="0.86"/><circle cx="72.29" cy="391.42" r="1"/><circle cx="74.37" cy="391.18" r="1.18"/><circle cx="75.86" cy="389.17" r="1.01"/><circle cx="77.41" cy="390.66" r="1.01"/><circle cx="71.32" cy="388.97" r="1.08"/><circle cx="73.7" cy="387.57" r="1.07"/><circle cx="77.44" cy="390.69" r="1.15"/><circle cx="77.52" cy="389.64" r="1.11"/><circle cx="71.67" cy="387.89" r="0.91"/><circle cx="70.93" cy="391.24" r="1.06"/><circle cx="73.46" cy="389.99" r="0.81"/><circle cx="73.38" cy="390.3" r="0.93"/><circle cx="77.21" cy="400.03" r="0.9"/><circle cx="81.17" cy="398.71" r="0.79"/><circle cx="77.81" cy="401.48" r="1.09"/><circle cx="80.93" cy="402.67" r="0.91"/><circle cx="75.27" cy="400.44" r="0.95"/><circle cx="76.61" cy="401.34" r="0.9"/><circle cx="77.15" cy="399.64" r="1.17"/><circle cx="75.07" cy="399.8" r="0.88"/><circle cx="76.81" cy="400.16" r="0.85"/><circle cx="83.27" cy="400.51" r="1.06"/><circle cx="76.46" cy="400.32" r="1.02"/><circle cx="88.32" cy="395.06" r="1.12"/><circle cx="87.86" cy="393.67" r="1.09"/><circle cx="68.98" cy="404.87" r="1.05"/><circle cx="71.29" cy="404.27" r="1.06"/><circle cx="68.8" cy="405.16" r="0.9"/><circle cx="69.4" cy="403.3" r="0.89"/><circle cx="67.94" cy="402.63" r="0.99"/><circle cx="68.41" cy="401.73" r="1.11"/><circle cx="72.54" cy="411.45" r="1.02"/><circle cx="73.25" cy="411.3" r="1.15"/><circle cx="72.78" cy="409.5" r="1.04"/><circle cx="76.33" cy="410.66" r="1.1"/><circle cx="73.4" cy="410.68" r="0.87"/><circle cx="73.37" cy="410.11" r="0.92"/><circle cx="84.4" cy="387.84" r="0.83"/><circle cx="83.23" cy="384.53" r="1.19"/><circle cx="85.14" cy="383.32" r="1.13"/><circle cx="83.49" cy="396.28" r="0.91"/><circle cx="82.94" cy="394.22" r="0.81"/><circle cx="73.6" cy="395.6" r="1.9"/><circle cx="60.5" cy="408.8" r="1.9"/></g><rect x="81.3" y="378.95" width="2.4" height="0.9" fill="#E03838"/><rect x="85.1" y="385.85" width="2.4" height="0.9" fill="#E03838"/><rect x="60.5" y="388.85" width="2.4" height="0.9" fill="#E03838"/><rect x="57.2" y="390.75" width="2.4" height="0.9" fill="#E03838"/><rect x="62.2" y="391.95" width="2.4" height="0.9" fill="#E03838"/><rect x="68.6" y="395.85" width="2.4" height="0.9" fill="#E03838"/><rect x="84.3" y="394.95" width="2.4" height="0.9" fill="#E03838"/><rect x="54.6" y="408.75" width="2.4" height="0.9" fill="#E03838"/><rect x="69.4" y="406.85" width="2.4" height="0.9" fill="#E03838"/><rect x="76.2" y="409.55" width="2.4" height="0.9" fill="#E03838"/>
<rect x="93.2" y="378.1" width="36.6" height="36.6" fill="url(#fluog)"/><g fill="#78EC78" filter="url(#blur03)"><circle cx="98.66" cy="386.22" r="1.06"/><circle cx="109.29" cy="380.23" r="0.85"/><circle cx="96.65" cy="380.7" r="1.08"/><circle cx="96.34" cy="384.38" r="0.85"/><circle cx="99.3" cy="383.18" r="1.13"/><circle cx="98.97" cy="379.76" r="1.14"/><circle cx="108.58" cy="387.67" r="1.12"/><circle cx="107.41" cy="389.39" r="1.11"/><circle cx="98.62" cy="388.2" r="0.97"/><circle cx="107.59" cy="384.77" r="0.94"/><circle cx="100.56" cy="383.16" r="0.89"/><circle cx="96.11" cy="387.84" r="1.11"/><circle cx="111.74" cy="386.29" r="1"/><circle cx="107.47" cy="379.62" r="1.05"/><circle cx="101.98" cy="380.12" r="0.84"/><circle cx="103.41" cy="381.04" r="0.96"/><circle cx="104.9" cy="382.75" r="0.81"/><circle cx="102.84" cy="380.83" r="0.86"/><circle cx="97.5" cy="382.4" r="0.78"/><circle cx="105.72" cy="389.44" r="0.93"/><circle cx="106.94" cy="389.2" r="0.77"/><circle cx="96.55" cy="387.67" r="1.13"/><circle cx="105.5" cy="379.92" r="0.94"/><circle cx="109.63" cy="388.63" r="1.11"/><circle cx="97.66" cy="388.24" r="0.92"/><circle cx="106.9" cy="379.64" r="1.19"/><circle cx="104.86" cy="386.67" r="0.85"/><circle cx="105.11" cy="384.97" r="1.02"/><circle cx="100.47" cy="386.73" r="0.9"/><circle cx="99.32" cy="379.97" r="1.06"/><circle cx="96.02" cy="380.71" r="0.78"/><circle cx="105.58" cy="384.67" r="0.99"/><circle cx="94.47" cy="397.03" r="0.9"/><circle cx="95.11" cy="390.05" r="1.2"/><circle cx="95.46" cy="394.82" r="0.87"/><circle cx="101.17" cy="391.24" r="0.96"/><circle cx="98.4" cy="403.35" r="0.75"/><circle cx="98.02" cy="397.94" r="1.19"/><circle cx="100.2" cy="397.59" r="1.05"/><circle cx="97.56" cy="390.51" r="0.98"/><circle cx="104.92" cy="401.81" r="0.87"/><circle cx="102.21" cy="403.59" r="0.87"/><circle cx="101.06" cy="395.69" r="0.86"/><circle cx="97.45" cy="393.26" r="0.91"/><circle cx="94.46" cy="396.36" r="0.79"/><circle cx="103.1" cy="399.6" r="0.75"/><circle cx="103.29" cy="393.05" r="0.97"/><circle cx="100.66" cy="395.33" r="0.88"/><circle cx="99.22" cy="392.19" r="1.14"/><circle cx="95.34" cy="403.18" r="0.85"/><circle cx="97.64" cy="396.21" r="0.77"/><circle cx="95.54" cy="395.78" r="0.95"/><circle cx="104.52" cy="405.84" r="0.77"/><circle cx="100.42" cy="392.07" r="1.11"/><circle cx="97.87" cy="404.29" r="1"/><circle cx="114.01" cy="379.05" r="0.86"/><circle cx="125.89" cy="380.5" r="0.97"/><circle cx="117.95" cy="382.45" r="1.11"/><circle cx="115.42" cy="386.18" r="1.05"/><circle cx="126.97" cy="384.2" r="1.16"/><circle cx="119.05" cy="384.73" r="1.03"/><circle cx="125.43" cy="387.98" r="0.8"/><circle cx="114.19" cy="384.34" r="1.12"/><circle cx="120.54" cy="382" r="1.18"/><circle cx="116.77" cy="379.87" r="0.77"/><circle cx="112.49" cy="386.27" r="0.8"/><circle cx="123.46" cy="387.66" r="1.2"/><circle cx="124.95" cy="383.24" r="1.03"/><circle cx="125.33" cy="386.16" r="0.88"/><circle cx="124.19" cy="380.09" r="0.89"/><circle cx="127.94" cy="383.71" r="0.87"/><circle cx="124.56" cy="383.5" r="0.75"/><circle cx="112.47" cy="381.59" r="0.9"/><circle cx="123.12" cy="392.97" r="1.13"/><circle cx="121.95" cy="394.99" r="1.2"/><circle cx="120.67" cy="395.81" r="0.87"/><circle cx="116.46" cy="400.82" r="0.99"/><circle cx="112.71" cy="394.51" r="0.96"/><circle cx="112.67" cy="396.88" r="0.77"/><circle cx="121.5" cy="392.14" r="0.8"/><circle cx="118.24" cy="393.69" r="1.15"/><circle cx="116.96" cy="396.26" r="1.13"/><circle cx="113" cy="398.94" r="1.04"/><circle cx="116" cy="401.51" r="0.76"/><circle cx="122.07" cy="391.72" r="1.13"/><circle cx="112.15" cy="390.64" r="0.98"/><circle cx="122.96" cy="393.09" r="0.97"/><circle cx="118.51" cy="392.92" r="0.99"/><circle cx="110.13" cy="395.39" r="1.09"/><circle cx="114.76" cy="392.65" r="0.77"/><circle cx="119.81" cy="395.13" r="1.16"/><circle cx="112.33" cy="405" r="1.16"/><circle cx="115.77" cy="412.17" r="1.12"/><circle cx="111.26" cy="411.21" r="1.05"/><circle cx="109.63" cy="406.57" r="0.81"/><circle cx="112.07" cy="409.97" r="0.78"/><circle cx="110.55" cy="410.1" r="0.98"/><circle cx="112.95" cy="412.76" r="0.92"/><circle cx="113.66" cy="408.99" r="1.01"/><circle cx="106.45" cy="413.33" r="0.95"/><circle cx="116.14" cy="407.38" r="1.05"/><circle cx="115.43" cy="410.84" r="0.92"/><circle cx="100.4" cy="408.78" r="0.94"/><circle cx="113.65" cy="411.84" r="1.19"/><circle cx="107.06" cy="408.11" r="1"/><circle cx="112.49" cy="404.8" r="0.85"/><circle cx="101.62" cy="407.25" r="0.88"/><circle cx="116.43" cy="406.08" r="1.17"/><circle cx="104.3" cy="406.04" r="1.19"/><circle cx="119.89" cy="403.35" r="0.81"/><circle cx="119.67" cy="406.64" r="0.85"/><circle cx="120.59" cy="402.19" r="1.06"/><circle cx="119.49" cy="404.78" r="1"/><circle cx="127.84" cy="409.91" r="1.07"/><circle cx="126.01" cy="411.57" r="1.13"/><circle cx="120.55" cy="402.65" r="1.03"/><circle cx="124.19" cy="408.25" r="1.1"/><circle cx="120.74" cy="410.47" r="0.94"/><circle cx="123.22" cy="404.94" r="0.88"/><circle cx="124.79" cy="408.65" r="1.16"/><circle cx="121.8" cy="410.59" r="0.79"/><circle cx="125.52" cy="403.93" r="1.14"/><circle cx="115.72" cy="399.53" r="1.11"/><circle cx="109.76" cy="399.83" r="0.8"/><circle cx="111.53" cy="398.63" r="1.07"/><circle cx="112.6" cy="400.52" r="1.07"/><circle cx="109.87" cy="399.99" r="0.91"/><circle cx="108.02" cy="403.32" r="0.79"/><circle cx="116.6" cy="391.6" r="1.7"/><circle cx="107" cy="395.5" r="1.6"/><circle cx="120.5" cy="396" r="1.7"/><circle cx="109.8" cy="402.8" r="1.6"/></g><rect x="119.2" y="382.05" width="2.4" height="0.9" fill="#E03838"/><rect x="97.2" y="389.95" width="2.4" height="0.9" fill="#E03838"/><rect x="111.6" y="391.85" width="2.4" height="0.9" fill="#E03838"/><rect x="103.5" y="401.95" width="2.4" height="0.9" fill="#E03838"/><rect x="117.5" y="403.55" width="2.4" height="0.9" fill="#E03838"/><rect x="125.1" y="401.95" width="2.4" height="0.9" fill="#E03838"/><rect x="103.5" y="410.05" width="2.4" height="0.9" fill="#E03838"/><rect x="111.1" y="412.95" width="2.4" height="0.9" fill="#E03838"/>
<rect x="13.5" y="418.3" width="36.4" height="36.6" fill="#888" filter="url(#micro)"/><path d="M13.5 438.3 Q27.5 427.3 47.5 422.3" fill="none" stroke="#3a3a3a" stroke-width="0.9" opacity="0.75"/><path d="M19.5 449.3 Q33.5 442.3 49.9 435.3" fill="none" stroke="#3a3a3a" stroke-width="0.8" opacity="0.7"/><rect x="23.4" y="436.2" width="2.2" height="1.0" fill="#E04040"/>
<rect x="53.4" y="418.3" width="36.4" height="36.6" fill="#888" filter="url(#micro2)"/><ellipse cx="71.6" cy="432.21" rx="10.92" ry="13.18" fill="#d0d0d0" opacity="0.3" filter="url(#blur12)"/><rect x="54.4" y="421.9" width="2.2" height="1.0" fill="#E04040"/><rect x="64" y="421.9" width="2.2" height="1.0" fill="#E04040"/><rect x="69.4" y="419.9" width="2.2" height="1.0" fill="#E04040"/><rect x="71.8" y="421.9" width="2.2" height="1.0" fill="#E04040"/><rect x="55" y="425" width="2.2" height="1.0" fill="#E04040"/><rect x="55" y="427.1" width="2.2" height="1.0" fill="#E04040"/><rect x="67.6" y="426.5" width="2.2" height="1.0" fill="#E04040"/><rect x="71.2" y="425.9" width="2.2" height="1.0" fill="#E04040"/><rect x="67" y="429.8" width="2.2" height="1.0" fill="#E04040"/><rect x="74.2" y="429.5" width="2.2" height="1.0" fill="#E04040"/><rect x="76.6" y="428.9" width="2.2" height="1.0" fill="#E04040"/><rect x="69.4" y="433.7" width="2.2" height="1.0" fill="#E04040"/><rect x="64.6" y="437" width="2.2" height="1.0" fill="#E04040"/><rect x="68.8" y="439.1" width="2.2" height="1.0" fill="#E04040"/><rect x="71.2" y="442" width="2.2" height="1.0" fill="#E04040"/><rect x="83.8" y="438.2" width="2.2" height="1.0" fill="#E04040"/><rect x="80.2" y="442.6" width="2.2" height="1.0" fill="#E04040"/><rect x="71.2" y="445" width="2.2" height="1.0" fill="#E04040"/><rect x="70.6" y="447.1" width="2.2" height="1.0" fill="#E04040"/><rect x="76.6" y="449.5" width="2.2" height="1.0" fill="#E04040"/>
<rect x="93.3" y="418.3" width="36.4" height="36.6" fill="#888" filter="url(#micro2)"/><ellipse cx="113.32" cy="436.6" rx="10.92" ry="10.25" fill="none" stroke="#d0d0d0" stroke-width="5" opacity="0.3" filter="url(#blur12)"/><rect x="110.2" y="420.9" width="2.2" height="1.0" fill="#E04040"/><rect x="106.5" y="426.4" width="2.2" height="1.0" fill="#E04040"/><rect x="112" y="426.9" width="2.2" height="1.0" fill="#E04040"/><rect x="119.3" y="425.5" width="2.2" height="1.0" fill="#E04040"/><rect x="126.6" y="426.4" width="2.2" height="1.0" fill="#E04040"/><rect x="103.8" y="430" width="2.2" height="1.0" fill="#E04040"/><rect x="116.6" y="429.1" width="2.2" height="1.0" fill="#E04040"/><rect x="98.3" y="435.5" width="2.2" height="1.0" fill="#E04040"/><rect x="118.4" y="435.5" width="2.2" height="1.0" fill="#E04040"/><rect x="120.2" y="438.2" width="2.2" height="1.0" fill="#E04040"/><rect x="96.5" y="441" width="2.2" height="1.0" fill="#E04040"/><rect x="102" y="442.8" width="2.2" height="1.0" fill="#E04040"/><rect x="107.4" y="443.7" width="2.2" height="1.0" fill="#E04040"/><rect x="117.5" y="442.8" width="2.2" height="1.0" fill="#E04040"/><rect x="94.7" y="444.6" width="2.2" height="1.0" fill="#E04040"/><rect x="100.1" y="447.3" width="2.2" height="1.0" fill="#E04040"/><rect x="104.7" y="448.3" width="2.2" height="1.0" fill="#E04040"/><rect x="109.3" y="448.3" width="2.2" height="1.0" fill="#E04040"/><rect x="114.7" y="447.3" width="2.2" height="1.0" fill="#E04040"/><rect x="98.3" y="451" width="2.2" height="1.0" fill="#E04040"/>
<line x1="146.1" y1="382.3" x2="146.1" y2="411.3" stroke="#000" stroke-width="0.75"/>
<line x1="144.8" y1="382.3" x2="146.1" y2="382.3" stroke="#000" stroke-width="0.75"/>
<text x="144.4" y="383.51" font-size="3.4" text-anchor="end" font-weight="bold">20</text>
<line x1="144.8" y1="389.6" x2="146.1" y2="389.6" stroke="#000" stroke-width="0.75"/>
<text x="144.4" y="390.81" font-size="3.4" text-anchor="end" font-weight="bold">15</text>
<line x1="144.8" y1="396.9" x2="146.1" y2="396.9" stroke="#000" stroke-width="0.75"/>
<text x="144.4" y="398.11" font-size="3.4" text-anchor="end" font-weight="bold">10</text>
<line x1="144.8" y1="404.2" x2="146.1" y2="404.2" stroke="#000" stroke-width="0.75"/>
<text x="144.4" y="405.41" font-size="3.4" text-anchor="end" font-weight="bold">5</text>
<line x1="144.8" y1="411.3" x2="146.1" y2="411.3" stroke="#000" stroke-width="0.75"/>
<text x="144.4" y="412.51" font-size="3.4" text-anchor="end" font-weight="bold">0</text>
<rect x="150.8" y="410" width="11" height="1.3" fill="#469ECC"/>
<rect x="169.1" y="394.8" width="10.9" height="16.5" fill="#E89655"/>
<rect x="186.1" y="398.7" width="10.4" height="12.6" fill="#F54042"/>
<line x1="146.1" y1="411.3" x2="198.4" y2="411.3" stroke="#000" stroke-width="0.75"/>
<line x1="156.3" y1="411.3" x2="156.3" y2="412.6" stroke="#000" stroke-width="0.75"/>
<line x1="174.6" y1="411.3" x2="174.6" y2="412.6" stroke="#000" stroke-width="0.75"/>
<line x1="191.3" y1="411.3" x2="191.3" y2="412.6" stroke="#000" stroke-width="0.75"/>
<line x1="174.5" y1="390" x2="174.5" y2="394.8" stroke="#111" stroke-width="0.8"/>
<line x1="171.85" y1="390" x2="177.35" y2="390" stroke="#111" stroke-width="0.8"/>
<line x1="191.5" y1="393.6" x2="191.5" y2="398.7" stroke="#111" stroke-width="0.8"/>
<line x1="188.55" y1="393.6" x2="194.05" y2="393.6" stroke="#111" stroke-width="0.8"/>
<circle cx="174.6" cy="387.9" r="0.6" fill="#000"/>
<circle cx="174.6" cy="400.8" r="0.6" fill="#000"/>
<circle cx="191.3" cy="392.4" r="0.6" fill="#000"/>
<circle cx="191.3" cy="404.8" r="0.6" fill="#000"/>
<circle cx="154.3" cy="409.6" r="0.6" fill="#000"/>
<circle cx="156.3" cy="409.6" r="0.6" fill="#000"/>
<circle cx="158.3" cy="409.6" r="0.6" fill="#000"/>
<text x="156.3" y="416.6" font-size="3.2" text-anchor="middle" font-weight="bold">si-NC</text>
<text x="174.6" y="416.6" font-size="3.2" text-anchor="middle" font-weight="bold">si-EZH2</text>
<text x="191.3" y="416.6" font-size="3.2" text-anchor="middle" font-weight="bold">si-METTL3</text>
<text x="137.4" y="396.8" font-size="3.1" text-anchor="middle" font-weight="bold" transform="rotate(-90 137.4 396.8)">% pyroptotic cells</text>
<line x1="146.1" y1="424.3" x2="146.1" y2="453.6" stroke="#000" stroke-width="0.75"/>
<line x1="144.8" y1="424.3" x2="146.1" y2="424.3" stroke="#000" stroke-width="0.75"/>
<text x="144.4" y="425.51" font-size="3.4" text-anchor="end" font-weight="bold">40</text>
<line x1="144.8" y1="431.8" x2="146.1" y2="431.8" stroke="#000" stroke-width="0.75"/>
<text x="144.4" y="433.01" font-size="3.4" text-anchor="end" font-weight="bold">30</text>
<line x1="144.8" y1="439.2" x2="146.1" y2="439.2" stroke="#000" stroke-width="0.75"/>
<text x="144.4" y="440.41" font-size="3.4" text-anchor="end" font-weight="bold">20</text>
<line x1="144.8" y1="446.5" x2="146.1" y2="446.5" stroke="#000" stroke-width="0.75"/>
<text x="144.4" y="447.71" font-size="3.4" text-anchor="end" font-weight="bold">10</text>
<line x1="144.8" y1="453.6" x2="146.1" y2="453.6" stroke="#000" stroke-width="0.75"/>
<text x="144.4" y="454.81" font-size="3.4" text-anchor="end" font-weight="bold">0</text>
<rect x="150.8" y="452.6" width="11" height="1" fill="#469ECC"/>
<rect x="169.1" y="433.5" width="10.9" height="20.1" fill="#E89655"/>
<rect x="186.1" y="434" width="10.4" height="19.6" fill="#F54042"/>
<line x1="146.1" y1="453.6" x2="198.4" y2="453.6" stroke="#000" stroke-width="0.75"/>
<line x1="156.3" y1="453.6" x2="156.3" y2="454.9" stroke="#000" stroke-width="0.75"/>
<line x1="174.6" y1="453.6" x2="174.6" y2="454.9" stroke="#000" stroke-width="0.75"/>
<line x1="191.3" y1="453.6" x2="191.3" y2="454.9" stroke="#000" stroke-width="0.75"/>
<line x1="174.5" y1="432.3" x2="174.5" y2="433.5" stroke="#111" stroke-width="0.8"/>
<line x1="171.85" y1="432.3" x2="177.35" y2="432.3" stroke="#111" stroke-width="0.8"/>
<line x1="191.5" y1="431" x2="191.5" y2="434" stroke="#111" stroke-width="0.8"/>
<line x1="188.55" y1="431" x2="194.05" y2="431" stroke="#111" stroke-width="0.8"/>
<circle cx="172.6" cy="433.4" r="0.6" fill="#000"/>
<circle cx="174.6" cy="433.4" r="0.6" fill="#000"/>
<circle cx="176.6" cy="433.4" r="0.6" fill="#000"/>
<circle cx="191.3" cy="430.2" r="0.6" fill="#000"/>
<circle cx="191.3" cy="436.8" r="0.6" fill="#000"/>
<text x="156.3" y="459" font-size="3.2" text-anchor="middle" font-weight="bold">si-NC</text>
<text x="174.6" y="459" font-size="3.2" text-anchor="middle" font-weight="bold">si-EZH2</text>
<text x="191.3" y="459" font-size="3.2" text-anchor="middle" font-weight="bold">si-METTL3</text>
<text x="137.4" y="439" font-size="3.1" text-anchor="middle" font-weight="bold" transform="rotate(-90 137.4 439)">Pyroptotic bodies (n)</text>
<text x="202" y="361.3" font-size="11" font-weight="bold">L</text>
<text x="269.05" y="370.7" font-size="6" text-anchor="middle" font-weight="bold">PC9/GR</text>
<line x1="258" y1="374.4" x2="279.8" y2="374.4" stroke="#555" stroke-width="0.9"/>
<line x1="223.2" y1="380" x2="223.2" y2="450.6" stroke="#000" stroke-width="0.75"/>
<line x1="221.2" y1="380" x2="223.2" y2="380" stroke="#000" stroke-width="0.75"/>
<text x="220.7" y="381.63" font-size="4.6" text-anchor="end" font-weight="bold">1.2</text>
<line x1="221.2" y1="403.5" x2="223.2" y2="403.5" stroke="#000" stroke-width="0.75"/>
<text x="220.7" y="405.13" font-size="4.6" text-anchor="end" font-weight="bold">0.8</text>
<line x1="221.2" y1="427" x2="223.2" y2="427" stroke="#000" stroke-width="0.75"/>
<text x="220.7" y="428.63" font-size="4.6" text-anchor="end" font-weight="bold">0.4</text>
<line x1="221.2" y1="450.6" x2="223.2" y2="450.6" stroke="#000" stroke-width="0.75"/>
<text x="220.7" y="452.23" font-size="4.6" text-anchor="end" font-weight="bold">0.0</text>
<rect x="232.9" y="391.7" width="17.6" height="58.9" fill="#469ECC"/>
<rect x="261" y="393" width="17.8" height="57.6" fill="#E89655"/>
<rect x="289.3" y="395.8" width="17.8" height="54.8" fill="#F54042"/>
<line x1="223.2" y1="450.6" x2="317.7" y2="450.6" stroke="#000" stroke-width="0.75"/>
<line x1="241.7" y1="450.6" x2="241.7" y2="452.6" stroke="#000" stroke-width="0.75"/>
<line x1="269.9" y1="450.6" x2="269.9" y2="452.6" stroke="#000" stroke-width="0.75"/>
<line x1="298.2" y1="450.6" x2="298.2" y2="452.6" stroke="#000" stroke-width="0.75"/>
<line x1="269.5" y1="388.3" x2="269.5" y2="393" stroke="#111" stroke-width="0.8"/>
<line x1="265.55" y1="388.3" x2="274.25" y2="388.3" stroke="#111" stroke-width="0.8"/>
<line x1="298.5" y1="392.5" x2="298.5" y2="395.8" stroke="#111" stroke-width="0.8"/>
<line x1="294" y1="392.5" x2="302.8" y2="392.5" stroke="#111" stroke-width="0.8"/>
<circle cx="239.3" cy="391.7" r="0.8" fill="#000"/>
<circle cx="241.7" cy="391.7" r="0.8" fill="#000"/>
<circle cx="244.1" cy="391.7" r="0.8" fill="#000"/>
<circle cx="269.9" cy="388.6" r="0.8" fill="#000"/>
<circle cx="269.9" cy="394.7" r="0.8" fill="#000"/>
<circle cx="269.9" cy="397.4" r="0.8" fill="#000"/>
<circle cx="296.7" cy="393.9" r="0.8" fill="#000"/>
<circle cx="298" cy="399.1" r="0.8" fill="#000"/>
<text x="270.2" y="386.4" font-size="5" text-anchor="middle" font-weight="bold">n.s.</text>
<text x="298.4" y="391.2" font-size="5" text-anchor="middle" font-weight="bold">n.s.</text>
<text x="241.8" y="459.5" font-size="5.3" text-anchor="middle" font-weight="bold">si-NC</text>
<text x="270.1" y="459.5" font-size="5.3" text-anchor="middle" font-weight="bold">si-EZH2</text>
<text x="298.8" y="459.5" font-size="5.3" text-anchor="middle" font-weight="bold">si-METTL3</text>
<text x="209.6" y="414" font-size="5" text-anchor="middle" font-weight="bold" transform="rotate(-90 209.6 414)">Relative LINC00969 expression</text>
<text x="319.8" y="361.2" font-size="11" font-weight="bold">M</text>
<text x="373.35" y="371" font-size="6" text-anchor="middle" font-weight="bold">PC9/GR</text>
<line x1="362" y1="374.4" x2="384.4" y2="374.4" stroke="#555" stroke-width="0.9"/>
<line x1="339" y1="379.2" x2="339" y2="450.4" stroke="#000" stroke-width="0.75"/>
<line x1="337" y1="379.2" x2="339" y2="379.2" stroke="#000" stroke-width="0.75"/>
<text x="336.5" y="380.83" font-size="4.6" text-anchor="end" font-weight="bold">1.2</text>
<line x1="337" y1="402.9" x2="339" y2="402.9" stroke="#000" stroke-width="0.75"/>
<text x="336.5" y="404.53" font-size="4.6" text-anchor="end" font-weight="bold">0.8</text>
<line x1="337" y1="426.7" x2="339" y2="426.7" stroke="#000" stroke-width="0.75"/>
<text x="336.5" y="428.33" font-size="4.6" text-anchor="end" font-weight="bold">0.4</text>
<line x1="337" y1="450.4" x2="339" y2="450.4" stroke="#000" stroke-width="0.75"/>
<text x="336.5" y="452.03" font-size="4.6" text-anchor="end" font-weight="bold">0.0</text>
<rect x="349.5" y="391" width="19" height="59.4" fill="#469ECC"/>
<rect x="379.8" y="390.1" width="19.2" height="60.3" fill="#E89655"/>
<line x1="339" y1="450.4" x2="401.2" y2="450.4" stroke="#000" stroke-width="0.75"/>
<line x1="359" y1="450.4" x2="359" y2="452.4" stroke="#000" stroke-width="0.75"/>
<line x1="389.4" y1="450.4" x2="389.4" y2="452.4" stroke="#000" stroke-width="0.75"/>
<line x1="389.5" y1="381" x2="389.5" y2="390.1" stroke="#111" stroke-width="0.8"/>
<line x1="385.05" y1="381" x2="393.75" y2="381" stroke="#111" stroke-width="0.8"/>
<circle cx="356.6" cy="391" r="0.8" fill="#000"/>
<circle cx="359" cy="391" r="0.8" fill="#000"/>
<circle cx="361.4" cy="391" r="0.8" fill="#000"/>
<circle cx="389.4" cy="390.6" r="0.8" fill="#000"/>
<circle cx="389.4" cy="398.8" r="0.8" fill="#000"/>
<text x="389.4" y="379.8" font-size="5" text-anchor="middle" font-weight="bold">n.s.</text>
<text x="358.9" y="459.5" font-size="5.3" text-anchor="middle" font-weight="bold">si-NC</text>
<text x="390" y="459.5" font-size="5.3" text-anchor="middle" font-weight="bold">si-LINC00969</text>
<text x="324.6" y="415" font-size="5" text-anchor="middle" font-weight="bold" transform="rotate(-90 324.6 415)">Relative EZH2 expression</text>
<text x="467.5" y="370.7" font-size="6" text-anchor="middle" font-weight="bold">PC9/GR</text>
<line x1="456.9" y1="374.2" x2="478.1" y2="374.2" stroke="#555" stroke-width="0.9"/>
<line x1="433" y1="379.2" x2="433" y2="450.4" stroke="#000" stroke-width="0.75"/>
<line x1="431" y1="379.2" x2="433" y2="379.2" stroke="#000" stroke-width="0.75"/>
<text x="430.5" y="380.83" font-size="4.6" text-anchor="end" font-weight="bold">1.5</text>
<line x1="431" y1="402.9" x2="433" y2="402.9" stroke="#000" stroke-width="0.75"/>
<text x="430.5" y="404.53" font-size="4.6" text-anchor="end" font-weight="bold">1.0</text>
<line x1="431" y1="426.7" x2="433" y2="426.7" stroke="#000" stroke-width="0.75"/>
<text x="430.5" y="428.33" font-size="4.6" text-anchor="end" font-weight="bold">0.5</text>
<line x1="431" y1="450.4" x2="433" y2="450.4" stroke="#000" stroke-width="0.75"/>
<text x="430.5" y="452.03" font-size="4.6" text-anchor="end" font-weight="bold">0.0</text>
<rect x="443.4" y="403" width="18.8" height="47.4" fill="#469ECC"/>
<rect x="474" y="405.8" width="19" height="44.6" fill="#E89655"/>
<line x1="433" y1="450.4" x2="503.5" y2="450.4" stroke="#000" stroke-width="0.75"/>
<line x1="452.8" y1="450.4" x2="452.8" y2="452.4" stroke="#000" stroke-width="0.75"/>
<line x1="483.5" y1="450.4" x2="483.5" y2="452.4" stroke="#000" stroke-width="0.75"/>
<line x1="483.5" y1="392.2" x2="483.5" y2="405.8" stroke="#111" stroke-width="0.8"/>
<line x1="479.15" y1="392.2" x2="487.85" y2="392.2" stroke="#111" stroke-width="0.8"/>
<circle cx="450.4" cy="403" r="0.8" fill="#000"/>
<circle cx="452.8" cy="403" r="0.8" fill="#000"/>
<circle cx="455.2" cy="403" r="0.8" fill="#000"/>
<circle cx="480.5" cy="413.2" r="0.8" fill="#000"/>
<circle cx="486" cy="413.2" r="0.8" fill="#000"/>
<text x="483.9" y="388.8" font-size="5" text-anchor="middle" font-weight="bold">n.s.</text>
<text x="452.6" y="459.5" font-size="5.3" text-anchor="middle" font-weight="bold">si-NC</text>
<text x="483.6" y="459.5" font-size="5.3" text-anchor="middle" font-weight="bold">si-LINC00969</text>
<text x="419.4" y="415" font-size="5" text-anchor="middle" font-weight="bold" transform="rotate(-90 419.4 415)">Relative METTL3 expression</text>
<text x="561.4" y="370.7" font-size="6" text-anchor="middle" font-weight="bold">PC9/GR</text>
<line x1="535.2" y1="374.5" x2="596.6" y2="374.5" stroke="#222" stroke-width="0.6"/>
<text x="549.6" y="401.6" font-size="5.2" font-weight="bold" transform="rotate(-45 549.6 401.6)">si-NC</text>
<text x="572.6" y="401.6" font-size="5.2" font-weight="bold" transform="rotate(-45 572.6 401.6)">si-LINC00969</text>
<rect x="536.5" y="402.7" width="49.1" height="16.2" fill="#dadada" stroke="#333" stroke-width="0.6"/>
<rect x="536.5" y="422.2" width="49.1" height="17" fill="#cdcdcd" stroke="#333" stroke-width="0.6"/>
<rect x="536.5" y="441.8" width="49.1" height="17" fill="#d6d6d6" stroke="#333" stroke-width="0.6"/>
<rect x="539.6" y="408" width="19" height="6.2" rx="3.1" fill="#0a0a0a" opacity="1" filter="url(#blur08)"/>
<rect x="562.2" y="408" width="20" height="6.2" rx="3.1" fill="#0a0a0a" opacity="1" filter="url(#blur08)"/>
<rect x="540.95" y="426.6" width="18.5" height="7.6" rx="3.8" fill="#0a0a0a" opacity="1" filter="url(#blur08)"/>
<rect x="564.05" y="426.6" width="19.5" height="7.6" rx="3.8" fill="#0a0a0a" opacity="1" filter="url(#blur08)"/>
<rect x="539.2" y="447.1" width="20" height="5.8" rx="2.9" fill="#0a0a0a" opacity="1" filter="url(#blur08)"/>
<rect x="562.75" y="447.1" width="19.5" height="5.8" rx="2.9" fill="#0a0a0a" opacity="1" filter="url(#blur08)"/>
<text x="521.2" y="412.3" font-size="5" text-anchor="middle" font-weight="bold">METTL3</text>
<text x="521.2" y="432.4" font-size="5" text-anchor="middle" font-weight="bold">EZH2</text>
<text x="521.2" y="452.8" font-size="5" text-anchor="middle" font-weight="bold">GAPDH</text>
<line x1="585.6" y1="410.5" x2="587.6" y2="410.5" stroke="#000" stroke-width="0.5"/>
<text x="587.9" y="412.15" font-size="4.5" font-weight="bold">75 kDa</text>
<line x1="585.6" y1="430.6" x2="587.6" y2="430.6" stroke="#000" stroke-width="0.5"/>
<text x="587.9" y="432.25" font-size="4.5" font-weight="bold">105 kDa</text>
<line x1="585.6" y1="451" x2="587.6" y2="451" stroke="#000" stroke-width="0.5"/>
<text x="587.9" y="452.65" font-size="4.5" font-weight="bold">36 kDa</text>
<line x1="620.5" y1="378.4" x2="620.5" y2="409" stroke="#000" stroke-width="0.75"/>
<line x1="619" y1="378.4" x2="620.5" y2="378.4" stroke="#000" stroke-width="0.75"/>
<text x="618.6" y="379.75" font-size="3.8" text-anchor="end" font-weight="bold">1.2</text>
<line x1="619" y1="388.6" x2="620.5" y2="388.6" stroke="#000" stroke-width="0.75"/>
<text x="618.6" y="389.95" font-size="3.8" text-anchor="end" font-weight="bold">0.8</text>
<line x1="619" y1="398.8" x2="620.5" y2="398.8" stroke="#000" stroke-width="0.75"/>
<text x="618.6" y="400.15" font-size="3.8" text-anchor="end" font-weight="bold">0.4</text>
<line x1="619" y1="409" x2="620.5" y2="409" stroke="#000" stroke-width="0.75"/>
<text x="618.6" y="410.35" font-size="3.8" text-anchor="end" font-weight="bold">0.0</text>
<rect x="630.9" y="383.2" width="16.1" height="25.8" fill="#469ECC"/>
<rect x="656.9" y="384.6" width="16.1" height="24.4" fill="#E89655"/>
<line x1="620.5" y1="409" x2="682.1" y2="409" stroke="#000" stroke-width="0.75"/>
<line x1="639" y1="409" x2="639" y2="410.5" stroke="#000" stroke-width="0.75"/>
<line x1="665" y1="409" x2="665" y2="410.5" stroke="#000" stroke-width="0.75"/>
<line x1="638.5" y1="381" x2="638.5" y2="383.2" stroke="#111" stroke-width="0.8"/>
<line x1="635.75" y1="381" x2="642.25" y2="381" stroke="#111" stroke-width="0.8"/>
<line x1="664.5" y1="383" x2="664.5" y2="384.6" stroke="#111" stroke-width="0.8"/>
<line x1="661.75" y1="383" x2="668.25" y2="383" stroke="#111" stroke-width="0.8"/>
<circle cx="639" cy="385" r="0.7" fill="#000"/>
<circle cx="663.6" cy="384.4" r="0.7" fill="#000"/>
<circle cx="666.4" cy="384.4" r="0.7" fill="#000"/>
<text x="663.8" y="381.2" font-size="5.4" text-anchor="middle" font-weight="bold">n.s.</text>
<text x="639.1" y="416.2" font-size="4.7" text-anchor="middle">si-NC</text>
<text x="665.2" y="416.2" font-size="4.7" text-anchor="middle">si-LINC00969</text>
<text x="610.6" y="393.7" font-size="3.9" text-anchor="middle" font-weight="bold" transform="rotate(-90 610.6 393.7)">EZH2/GAPDH</text>
<line x1="620.5" y1="422.9" x2="620.5" y2="452.8" stroke="#000" stroke-width="0.75"/>
<line x1="619" y1="422.9" x2="620.5" y2="422.9" stroke="#000" stroke-width="0.75"/>
<text x="618.6" y="424.25" font-size="3.8" text-anchor="end" font-weight="bold">1.2</text>
<line x1="619" y1="432.8" x2="620.5" y2="432.8" stroke="#000" stroke-width="0.75"/>
<text x="618.6" y="434.15" font-size="3.8" text-anchor="end" font-weight="bold">0.8</text>
<line x1="619" y1="442.7" x2="620.5" y2="442.7" stroke="#000" stroke-width="0.75"/>
<text x="618.6" y="444.05" font-size="3.8" text-anchor="end" font-weight="bold">0.4</text>
<line x1="619" y1="452.8" x2="620.5" y2="452.8" stroke="#000" stroke-width="0.75"/>
<text x="618.6" y="454.15" font-size="3.8" text-anchor="end" font-weight="bold">0.0</text>
<rect x="630.9" y="431.1" width="16.1" height="21.7" fill="#469ECC"/>
<rect x="656.9" y="430.1" width="16.1" height="22.7" fill="#E89655"/>
<line x1="620.5" y1="452.8" x2="682.1" y2="452.8" stroke="#000" stroke-width="0.75"/>
<line x1="639" y1="452.8" x2="639" y2="454.3" stroke="#000" stroke-width="0.75"/>
<line x1="665" y1="452.8" x2="665" y2="454.3" stroke="#000" stroke-width="0.75"/>
<line x1="638.5" y1="426" x2="638.5" y2="431.1" stroke="#111" stroke-width="0.8"/>
<line x1="635.75" y1="426" x2="642.25" y2="426" stroke="#111" stroke-width="0.8"/>
<line x1="664.5" y1="427.4" x2="664.5" y2="430.1" stroke="#111" stroke-width="0.8"/>
<line x1="661.75" y1="427.4" x2="668.25" y2="427.4" stroke="#111" stroke-width="0.8"/>
<circle cx="639" cy="427.6" r="0.7" fill="#000"/>
<circle cx="639" cy="436.6" r="0.7" fill="#000"/>
<circle cx="665" cy="433.2" r="0.7" fill="#000"/>
<circle cx="666.4" cy="427" r="0.7" fill="#000"/>
<text x="663.8" y="424.4" font-size="5.4" text-anchor="middle" font-weight="bold">n.s.</text>
<text x="639.1" y="460" font-size="4.7" text-anchor="middle">si-NC</text>
<text x="665.2" y="460" font-size="4.7" text-anchor="middle">si-LINC00969</text>
<text x="610.6" y="437.8" font-size="3.9" text-anchor="middle" font-weight="bold" transform="rotate(-90 610.6 437.8)">METTL3/GAPDH</text>
</svg>
</body></html>
